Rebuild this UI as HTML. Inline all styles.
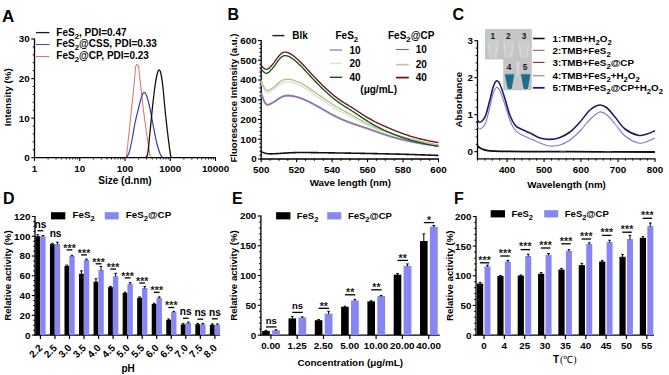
<!DOCTYPE html>
<html><head><meta charset="utf-8"><style>
html,body{margin:0;padding:0;background:#fff;}
svg{display:block;font-family:"Liberation Sans", sans-serif;}
</style></head><body>
<svg width="669" height="375" viewBox="0 0 669 375">
<rect width="669" height="375" fill="#fff"/>
<text x="2" y="22" font-size="17" text-anchor="start" font-weight="bold" fill="#000">A</text>
<line x1="34.5" y1="38.5" x2="34.5" y2="158.3" stroke="#000" stroke-width="1.3"/>
<line x1="33.9" y1="157.7" x2="216" y2="157.7" stroke="#000" stroke-width="1.3"/>
<line x1="31.3" y1="157.7" x2="34.5" y2="157.7" stroke="#000" stroke-width="1.1"/>
<text x="29.7" y="161.1" font-size="9.8" text-anchor="end" font-weight="bold" fill="#000">0</text>
<line x1="32.7" y1="149.79" x2="34.5" y2="149.79" stroke="#000" stroke-width="1"/>
<line x1="32.7" y1="141.87" x2="34.5" y2="141.87" stroke="#000" stroke-width="1"/>
<line x1="32.7" y1="133.96" x2="34.5" y2="133.96" stroke="#000" stroke-width="1"/>
<line x1="32.7" y1="126.05" x2="34.5" y2="126.05" stroke="#000" stroke-width="1"/>
<line x1="31.3" y1="118.13" x2="34.5" y2="118.13" stroke="#000" stroke-width="1.1"/>
<text x="29.7" y="121.53" font-size="9.8" text-anchor="end" font-weight="bold" fill="#000">10</text>
<line x1="32.7" y1="110.22" x2="34.5" y2="110.22" stroke="#000" stroke-width="1"/>
<line x1="32.7" y1="102.31" x2="34.5" y2="102.31" stroke="#000" stroke-width="1"/>
<line x1="32.7" y1="94.39" x2="34.5" y2="94.39" stroke="#000" stroke-width="1"/>
<line x1="32.7" y1="86.48" x2="34.5" y2="86.48" stroke="#000" stroke-width="1"/>
<line x1="31.3" y1="78.57" x2="34.5" y2="78.57" stroke="#000" stroke-width="1.1"/>
<text x="29.7" y="81.97" font-size="9.8" text-anchor="end" font-weight="bold" fill="#000">20</text>
<line x1="32.7" y1="70.65" x2="34.5" y2="70.65" stroke="#000" stroke-width="1"/>
<line x1="32.7" y1="62.74" x2="34.5" y2="62.74" stroke="#000" stroke-width="1"/>
<line x1="32.7" y1="54.83" x2="34.5" y2="54.83" stroke="#000" stroke-width="1"/>
<line x1="32.7" y1="46.91" x2="34.5" y2="46.91" stroke="#000" stroke-width="1"/>
<line x1="31.3" y1="39" x2="34.5" y2="39" stroke="#000" stroke-width="1.1"/>
<text x="29.7" y="42.4" font-size="9.8" text-anchor="end" font-weight="bold" fill="#000">30</text>
<line x1="34.5" y1="157.7" x2="34.5" y2="160.9" stroke="#000" stroke-width="1.1"/>
<text x="34.5" y="171.6" font-size="9.8" text-anchor="middle" font-weight="bold" fill="#000">1</text>
<line x1="48.12" y1="157.7" x2="48.12" y2="159.5" stroke="#000" stroke-width="0.9"/>
<line x1="56.09" y1="157.7" x2="56.09" y2="159.5" stroke="#000" stroke-width="0.9"/>
<line x1="61.74" y1="157.7" x2="61.74" y2="159.5" stroke="#000" stroke-width="0.9"/>
<line x1="66.13" y1="157.7" x2="66.13" y2="159.5" stroke="#000" stroke-width="0.9"/>
<line x1="69.71" y1="157.7" x2="69.71" y2="159.5" stroke="#000" stroke-width="0.9"/>
<line x1="72.74" y1="157.7" x2="72.74" y2="159.5" stroke="#000" stroke-width="0.9"/>
<line x1="75.36" y1="157.7" x2="75.36" y2="159.5" stroke="#000" stroke-width="0.9"/>
<line x1="77.68" y1="157.7" x2="77.68" y2="159.5" stroke="#000" stroke-width="0.9"/>
<line x1="79.75" y1="157.7" x2="79.75" y2="160.9" stroke="#000" stroke-width="1.1"/>
<text x="79.75" y="171.6" font-size="9.8" text-anchor="middle" font-weight="bold" fill="#000">10</text>
<line x1="93.37" y1="157.7" x2="93.37" y2="159.5" stroke="#000" stroke-width="0.9"/>
<line x1="101.34" y1="157.7" x2="101.34" y2="159.5" stroke="#000" stroke-width="0.9"/>
<line x1="106.99" y1="157.7" x2="106.99" y2="159.5" stroke="#000" stroke-width="0.9"/>
<line x1="111.38" y1="157.7" x2="111.38" y2="159.5" stroke="#000" stroke-width="0.9"/>
<line x1="114.96" y1="157.7" x2="114.96" y2="159.5" stroke="#000" stroke-width="0.9"/>
<line x1="117.99" y1="157.7" x2="117.99" y2="159.5" stroke="#000" stroke-width="0.9"/>
<line x1="120.61" y1="157.7" x2="120.61" y2="159.5" stroke="#000" stroke-width="0.9"/>
<line x1="122.93" y1="157.7" x2="122.93" y2="159.5" stroke="#000" stroke-width="0.9"/>
<line x1="125" y1="157.7" x2="125" y2="160.9" stroke="#000" stroke-width="1.1"/>
<text x="125" y="171.6" font-size="9.8" text-anchor="middle" font-weight="bold" fill="#000">100</text>
<line x1="138.62" y1="157.7" x2="138.62" y2="159.5" stroke="#000" stroke-width="0.9"/>
<line x1="146.59" y1="157.7" x2="146.59" y2="159.5" stroke="#000" stroke-width="0.9"/>
<line x1="152.24" y1="157.7" x2="152.24" y2="159.5" stroke="#000" stroke-width="0.9"/>
<line x1="156.63" y1="157.7" x2="156.63" y2="159.5" stroke="#000" stroke-width="0.9"/>
<line x1="160.21" y1="157.7" x2="160.21" y2="159.5" stroke="#000" stroke-width="0.9"/>
<line x1="163.24" y1="157.7" x2="163.24" y2="159.5" stroke="#000" stroke-width="0.9"/>
<line x1="165.86" y1="157.7" x2="165.86" y2="159.5" stroke="#000" stroke-width="0.9"/>
<line x1="168.18" y1="157.7" x2="168.18" y2="159.5" stroke="#000" stroke-width="0.9"/>
<line x1="170.25" y1="157.7" x2="170.25" y2="160.9" stroke="#000" stroke-width="1.1"/>
<text x="170.25" y="171.6" font-size="9.8" text-anchor="middle" font-weight="bold" fill="#000">1000</text>
<line x1="183.87" y1="157.7" x2="183.87" y2="159.5" stroke="#000" stroke-width="0.9"/>
<line x1="191.84" y1="157.7" x2="191.84" y2="159.5" stroke="#000" stroke-width="0.9"/>
<line x1="197.49" y1="157.7" x2="197.49" y2="159.5" stroke="#000" stroke-width="0.9"/>
<line x1="201.88" y1="157.7" x2="201.88" y2="159.5" stroke="#000" stroke-width="0.9"/>
<line x1="205.46" y1="157.7" x2="205.46" y2="159.5" stroke="#000" stroke-width="0.9"/>
<line x1="208.49" y1="157.7" x2="208.49" y2="159.5" stroke="#000" stroke-width="0.9"/>
<line x1="211.11" y1="157.7" x2="211.11" y2="159.5" stroke="#000" stroke-width="0.9"/>
<line x1="213.43" y1="157.7" x2="213.43" y2="159.5" stroke="#000" stroke-width="0.9"/>
<line x1="215.5" y1="157.7" x2="215.5" y2="160.9" stroke="#000" stroke-width="1.1"/>
<text x="215.5" y="171.6" font-size="9.8" text-anchor="middle" font-weight="bold" fill="#000">10000</text>
<text x="125" y="184.3" font-size="10" text-anchor="middle" font-weight="bold" fill="#000">Size (d.nm)</text>
<text x="11.4" y="97.3" font-size="9.75" text-anchor="middle" font-weight="bold" fill="#000" transform="rotate(-90 11.4 97.3)">Intensity (%)</text>
<line x1="36" y1="32.6" x2="49.4" y2="32.6" stroke="#1a1a1a" stroke-width="1.3"/>
<text x="56.3" y="35.5" font-size="10" text-anchor="start" font-weight="bold" fill="#000">FeS<tspan dy="3" font-size="7.8">2</tspan><tspan dy="-3">, PDI=0.47</tspan></text>
<line x1="36" y1="44.55" x2="49.4" y2="44.55" stroke="#4040c0" stroke-width="1"/>
<text x="56.3" y="47.45" font-size="10" text-anchor="start" font-weight="bold" fill="#000">FeS<tspan dy="3" font-size="7.8">2</tspan><tspan dy="-3">@CSS, PDI=0.33</tspan></text>
<line x1="36" y1="56.5" x2="49.4" y2="56.5" stroke="#e07070" stroke-width="1"/>
<text x="56.3" y="59.4" font-size="10" text-anchor="start" font-weight="bold" fill="#000">FeS<tspan dy="3" font-size="7.8">2</tspan><tspan dy="-3">@CP, PDI=0.23</tspan></text>
<path d="M126.4,157.2 L129,133 L131.4,110 L134,86 L135.6,66.5 L137,64.2 L138.5,66 L140.8,87 L143.4,110 L146.5,133 L150.3,157.2" fill="none" stroke="#e07878" stroke-width="1.1" stroke-linejoin="round"/>
<path d="M126.4,157.2 C126.83,156.5 128.07,155.87 129,153 C129.93,150.13 131,145 132,140 C133,135 133.9,128.33 135,123 C136.1,117.67 137.52,112.33 138.6,108 C139.68,103.67 140.58,99.6 141.5,97 C142.42,94.4 143.18,92.4 144.1,92.4 C145.02,92.4 145.97,94.07 147,97 C148.03,99.93 149.22,105 150.3,110 C151.38,115 152.38,121.33 153.5,127 C154.62,132.67 155.92,139.58 157,144 C158.08,148.42 159.15,151.3 160,153.5 C160.85,155.7 161.75,156.58 162.1,157.2" fill="none" stroke="#3a3ab8" stroke-width="1.2" stroke-linejoin="round"/>
<path d="M144.8,157.5 C145.27,156.98 146.73,158.65 147.6,154.4 C148.47,150.15 149.2,139.73 150,132 C150.8,124.27 151.57,115.67 152.4,108 C153.23,100.33 154.18,91.75 155,86 C155.82,80.25 156.62,76.2 157.3,73.5 C157.98,70.8 158.5,69.8 159.1,69.8 C159.7,69.8 160.28,70.8 160.9,73.5 C161.52,76.2 162.13,80.25 162.8,86 C163.47,91.75 164.12,100.33 164.9,108 C165.68,115.67 166.58,124.27 167.5,132 C168.42,139.73 169.68,150.15 170.4,154.4 C171.12,158.65 171.57,156.98 171.8,157.5" fill="none" stroke="#111" stroke-width="1.3" stroke-linejoin="round"/>
<text x="227.5" y="20" font-size="16" text-anchor="start" font-weight="bold" fill="#000">B</text>
<line x1="261.2" y1="40" x2="261.2" y2="159.6" stroke="#000" stroke-width="1.3"/>
<line x1="260.6" y1="159" x2="439" y2="159" stroke="#000" stroke-width="1.3"/>
<line x1="258" y1="159" x2="261.2" y2="159" stroke="#000" stroke-width="1.1"/>
<text x="256.6" y="162.4" font-size="9.8" text-anchor="end" font-weight="bold" fill="#000">0</text>
<line x1="259.4" y1="155.05" x2="261.2" y2="155.05" stroke="#000" stroke-width="1"/>
<line x1="259.4" y1="151.1" x2="261.2" y2="151.1" stroke="#000" stroke-width="1"/>
<line x1="259.4" y1="147.15" x2="261.2" y2="147.15" stroke="#000" stroke-width="1"/>
<line x1="259.4" y1="143.2" x2="261.2" y2="143.2" stroke="#000" stroke-width="1"/>
<line x1="258" y1="139.25" x2="261.2" y2="139.25" stroke="#000" stroke-width="1.1"/>
<text x="256.6" y="142.65" font-size="9.8" text-anchor="end" font-weight="bold" fill="#000">100</text>
<line x1="259.4" y1="135.3" x2="261.2" y2="135.3" stroke="#000" stroke-width="1"/>
<line x1="259.4" y1="131.35" x2="261.2" y2="131.35" stroke="#000" stroke-width="1"/>
<line x1="259.4" y1="127.4" x2="261.2" y2="127.4" stroke="#000" stroke-width="1"/>
<line x1="259.4" y1="123.45" x2="261.2" y2="123.45" stroke="#000" stroke-width="1"/>
<line x1="258" y1="119.5" x2="261.2" y2="119.5" stroke="#000" stroke-width="1.1"/>
<text x="256.6" y="122.9" font-size="9.8" text-anchor="end" font-weight="bold" fill="#000">200</text>
<line x1="259.4" y1="115.55" x2="261.2" y2="115.55" stroke="#000" stroke-width="1"/>
<line x1="259.4" y1="111.6" x2="261.2" y2="111.6" stroke="#000" stroke-width="1"/>
<line x1="259.4" y1="107.65" x2="261.2" y2="107.65" stroke="#000" stroke-width="1"/>
<line x1="259.4" y1="103.7" x2="261.2" y2="103.7" stroke="#000" stroke-width="1"/>
<line x1="258" y1="99.75" x2="261.2" y2="99.75" stroke="#000" stroke-width="1.1"/>
<text x="256.6" y="103.15" font-size="9.8" text-anchor="end" font-weight="bold" fill="#000">300</text>
<line x1="259.4" y1="95.8" x2="261.2" y2="95.8" stroke="#000" stroke-width="1"/>
<line x1="259.4" y1="91.85" x2="261.2" y2="91.85" stroke="#000" stroke-width="1"/>
<line x1="259.4" y1="87.9" x2="261.2" y2="87.9" stroke="#000" stroke-width="1"/>
<line x1="259.4" y1="83.95" x2="261.2" y2="83.95" stroke="#000" stroke-width="1"/>
<line x1="258" y1="80" x2="261.2" y2="80" stroke="#000" stroke-width="1.1"/>
<text x="256.6" y="83.4" font-size="9.8" text-anchor="end" font-weight="bold" fill="#000">400</text>
<line x1="259.4" y1="76.05" x2="261.2" y2="76.05" stroke="#000" stroke-width="1"/>
<line x1="259.4" y1="72.1" x2="261.2" y2="72.1" stroke="#000" stroke-width="1"/>
<line x1="259.4" y1="68.15" x2="261.2" y2="68.15" stroke="#000" stroke-width="1"/>
<line x1="259.4" y1="64.2" x2="261.2" y2="64.2" stroke="#000" stroke-width="1"/>
<line x1="258" y1="60.25" x2="261.2" y2="60.25" stroke="#000" stroke-width="1.1"/>
<text x="256.6" y="63.65" font-size="9.8" text-anchor="end" font-weight="bold" fill="#000">500</text>
<line x1="259.4" y1="56.3" x2="261.2" y2="56.3" stroke="#000" stroke-width="1"/>
<line x1="259.4" y1="52.35" x2="261.2" y2="52.35" stroke="#000" stroke-width="1"/>
<line x1="259.4" y1="48.4" x2="261.2" y2="48.4" stroke="#000" stroke-width="1"/>
<line x1="259.4" y1="44.45" x2="261.2" y2="44.45" stroke="#000" stroke-width="1"/>
<line x1="258" y1="40.5" x2="261.2" y2="40.5" stroke="#000" stroke-width="1.1"/>
<text x="256.6" y="43.9" font-size="9.8" text-anchor="end" font-weight="bold" fill="#000">600</text>
<line x1="261.2" y1="159" x2="261.2" y2="162.2" stroke="#000" stroke-width="1.1"/>
<text x="261.2" y="173.3" font-size="9.8" text-anchor="middle" font-weight="bold" fill="#000">500</text>
<line x1="270.06" y1="159" x2="270.06" y2="160.8" stroke="#000" stroke-width="1"/>
<line x1="278.93" y1="159" x2="278.93" y2="160.8" stroke="#000" stroke-width="1"/>
<line x1="287.8" y1="159" x2="287.8" y2="160.8" stroke="#000" stroke-width="1"/>
<line x1="296.66" y1="159" x2="296.66" y2="162.2" stroke="#000" stroke-width="1.1"/>
<text x="296.66" y="173.3" font-size="9.8" text-anchor="middle" font-weight="bold" fill="#000">520</text>
<line x1="305.52" y1="159" x2="305.52" y2="160.8" stroke="#000" stroke-width="1"/>
<line x1="314.39" y1="159" x2="314.39" y2="160.8" stroke="#000" stroke-width="1"/>
<line x1="323.25" y1="159" x2="323.25" y2="160.8" stroke="#000" stroke-width="1"/>
<line x1="332.12" y1="159" x2="332.12" y2="162.2" stroke="#000" stroke-width="1.1"/>
<text x="332.12" y="173.3" font-size="9.8" text-anchor="middle" font-weight="bold" fill="#000">540</text>
<line x1="340.99" y1="159" x2="340.99" y2="160.8" stroke="#000" stroke-width="1"/>
<line x1="349.85" y1="159" x2="349.85" y2="160.8" stroke="#000" stroke-width="1"/>
<line x1="358.71" y1="159" x2="358.71" y2="160.8" stroke="#000" stroke-width="1"/>
<line x1="367.58" y1="159" x2="367.58" y2="162.2" stroke="#000" stroke-width="1.1"/>
<text x="367.58" y="173.3" font-size="9.8" text-anchor="middle" font-weight="bold" fill="#000">560</text>
<line x1="376.44" y1="159" x2="376.44" y2="160.8" stroke="#000" stroke-width="1"/>
<line x1="385.31" y1="159" x2="385.31" y2="160.8" stroke="#000" stroke-width="1"/>
<line x1="394.18" y1="159" x2="394.18" y2="160.8" stroke="#000" stroke-width="1"/>
<line x1="403.04" y1="159" x2="403.04" y2="162.2" stroke="#000" stroke-width="1.1"/>
<text x="403.04" y="173.3" font-size="9.8" text-anchor="middle" font-weight="bold" fill="#000">580</text>
<line x1="411.9" y1="159" x2="411.9" y2="160.8" stroke="#000" stroke-width="1"/>
<line x1="420.77" y1="159" x2="420.77" y2="160.8" stroke="#000" stroke-width="1"/>
<line x1="429.63" y1="159" x2="429.63" y2="160.8" stroke="#000" stroke-width="1"/>
<line x1="438.5" y1="159" x2="438.5" y2="162.2" stroke="#000" stroke-width="1.1"/>
<text x="438.5" y="173.3" font-size="9.8" text-anchor="middle" font-weight="bold" fill="#000">600</text>
<text x="350.3" y="185.8" font-size="9.8" text-anchor="middle" font-weight="bold" fill="#000">Wave length (nm)</text>
<text x="237.2" y="98" font-size="9.55" text-anchor="middle" font-weight="bold" fill="#000" transform="rotate(-90 237.2 98)">Fluorescence Intensity (a.u.)</text>
<line x1="272.4" y1="35.6" x2="284.4" y2="35.6" stroke="#1a1a1a" stroke-width="1.4"/>
<text x="292.3" y="39.4" font-size="10" text-anchor="start" font-weight="bold" fill="#000">Blk</text>
<text x="335.5" y="39" font-size="10" text-anchor="start" font-weight="bold" fill="#000">FeS<tspan dy="3" font-size="7.8">2</tspan></text>
<text x="388" y="39" font-size="10" text-anchor="start" font-weight="bold" fill="#000">FeS<tspan dy="3" font-size="7.8">2</tspan><tspan dy="-3">@CP</tspan></text>
<line x1="329.8" y1="50" x2="342" y2="50" stroke="#b08aa8" stroke-width="1.5"/>
<text x="349.4" y="53.5" font-size="10" text-anchor="start" font-weight="bold" fill="#000">10</text>
<line x1="329.8" y1="63.5" x2="342" y2="63.5" stroke="#c8ecc8" stroke-width="1.4"/>
<text x="349.4" y="67" font-size="10" text-anchor="start" font-weight="bold" fill="#000">20</text>
<line x1="329.8" y1="77.3" x2="342" y2="77.3" stroke="#0c3c10" stroke-width="1.3"/>
<text x="349.4" y="80.8" font-size="10" text-anchor="start" font-weight="bold" fill="#000">40</text>
<line x1="396" y1="49.5" x2="408.8" y2="49.5" stroke="#6a6a98" stroke-width="1.1"/>
<text x="415.8" y="53" font-size="10" text-anchor="start" font-weight="bold" fill="#000">10</text>
<line x1="396" y1="64.7" x2="408.8" y2="64.7" stroke="#c8c4a0" stroke-width="1.8"/>
<text x="415.8" y="68.2" font-size="10" text-anchor="start" font-weight="bold" fill="#000">20</text>
<line x1="396" y1="77.6" x2="408.8" y2="77.6" stroke="#7a1420" stroke-width="1.8"/>
<text x="415.8" y="81.1" font-size="10" text-anchor="start" font-weight="bold" fill="#000">40</text>
<text x="360.3" y="92.6" font-size="10" text-anchor="start" font-weight="bold" fill="#000">(μg/mL)</text>
<path d="M261.20,151.49 L262.09,151.96 L262.97,152.38 L263.86,152.74 L264.75,153.03 L265.63,153.26 L266.52,153.44 L267.41,153.60 L268.29,153.72 L269.18,153.80 L270.06,153.84 L270.95,153.85 L271.84,153.84 L272.72,153.81 L273.61,153.78 L274.50,153.74 L275.38,153.70 L276.27,153.65 L277.16,153.59 L278.04,153.54 L278.93,153.48 L279.82,153.43 L280.70,153.38 L281.59,153.32 L282.48,153.27 L283.36,153.21 L284.25,153.16 L285.14,153.10 L286.02,153.04 L286.91,152.98 L287.80,152.92 L288.68,152.87 L289.57,152.81 L290.45,152.77 L291.34,152.72 L292.23,152.69 L293.11,152.65 L294.00,152.63 L294.89,152.60 L295.77,152.58 L296.66,152.57 L297.55,152.55 L298.43,152.54 L299.32,152.53 L300.21,152.53 L301.09,152.52 L301.98,152.52 L302.87,152.52 L303.75,152.53 L304.64,152.53 L305.52,152.54 L306.41,152.54 L307.30,152.55 L308.18,152.56 L309.07,152.56 L309.96,152.57 L310.84,152.58 L311.73,152.59 L312.62,152.60 L313.50,152.61 L314.39,152.63 L315.28,152.64 L316.16,152.65 L317.05,152.66 L317.94,152.67 L318.82,152.69 L319.71,152.70 L320.60,152.71 L321.48,152.72 L322.37,152.74 L323.25,152.75 L324.14,152.76 L325.03,152.78 L325.91,152.79 L326.80,152.80 L327.69,152.81 L328.57,152.83 L329.46,152.84 L330.35,152.85 L331.23,152.86 L332.12,152.88 L333.01,152.89 L333.89,152.90 L334.78,152.92 L335.67,152.93 L336.55,152.94 L337.44,152.95 L338.33,152.97 L339.21,152.98 L340.10,152.99 L340.99,153.01 L341.87,153.02 L342.76,153.04 L343.64,153.05 L344.53,153.06 L345.42,153.08 L346.30,153.09 L347.19,153.11 L348.08,153.12 L348.96,153.14 L349.85,153.15 L350.74,153.17 L351.62,153.18 L352.51,153.20 L353.40,153.21 L354.28,153.23 L355.17,153.24 L356.06,153.26 L356.94,153.27 L357.83,153.29 L358.71,153.31 L359.60,153.32 L360.49,153.34 L361.37,153.35 L362.26,153.37 L363.15,153.39 L364.03,153.40 L364.92,153.42 L365.81,153.44 L366.69,153.45 L367.58,153.47 L368.47,153.49 L369.35,153.51 L370.24,153.52 L371.13,153.54 L372.01,153.56 L372.90,153.58 L373.79,153.59 L374.67,153.61 L375.56,153.63 L376.44,153.65 L377.33,153.66 L378.22,153.68 L379.10,153.70 L379.99,153.72 L380.88,153.74 L381.76,153.76 L382.65,153.78 L383.54,153.80 L384.42,153.81 L385.31,153.83 L386.20,153.85 L387.08,153.87 L387.97,153.89 L388.86,153.91 L389.74,153.93 L390.63,153.95 L391.52,153.98 L392.40,154.00 L393.29,154.02 L394.18,154.04 L395.06,154.06 L395.95,154.08 L396.83,154.10 L397.72,154.13 L398.61,154.15 L399.49,154.17 L400.38,154.19 L401.27,154.22 L402.15,154.24 L403.04,154.27 L403.93,154.29 L404.81,154.31 L405.70,154.34 L406.59,154.36 L407.47,154.39 L408.36,154.41 L409.25,154.44 L410.13,154.47 L411.02,154.49 L411.90,154.52 L412.79,154.55 L413.68,154.57 L414.56,154.60 L415.45,154.63 L416.34,154.66 L417.22,154.69 L418.11,154.71 L419.00,154.74 L419.88,154.77 L420.77,154.80 L421.66,154.83 L422.54,154.86 L423.43,154.89 L424.32,154.92 L425.20,154.96 L426.09,154.99 L426.98,155.02 L427.86,155.05 L428.75,155.08 L429.63,155.11 L430.52,155.15 L431.41,155.18 L432.29,155.21 L433.18,155.24 L434.07,155.28 L434.95,155.31 L435.84,155.35 L436.73,155.38 L437.61,155.41 L438.50,155.45" fill="none" stroke="#111" stroke-width="1.6" stroke-linejoin="round"/>
<path d="M261.20,93.20 L262.09,95.86 L262.97,98.32 L263.86,100.47 L264.75,102.24 L265.63,103.56 L266.52,104.41 L267.41,104.78 L268.29,104.77 L269.18,104.49 L270.06,104.07 L270.95,103.60 L271.84,103.12 L272.72,102.63 L273.61,102.12 L274.50,101.58 L275.38,101.00 L276.27,100.40 L277.16,99.79 L278.04,99.19 L278.93,98.60 L279.82,98.04 L280.70,97.53 L281.59,97.06 L282.48,96.66 L283.36,96.32 L284.25,96.06 L285.14,95.86 L286.02,95.72 L286.91,95.64 L287.80,95.61 L288.68,95.62 L289.57,95.66 L290.45,95.74 L291.34,95.84 L292.23,95.96 L293.11,96.11 L294.00,96.28 L294.89,96.48 L295.77,96.70 L296.66,96.94 L297.55,97.18 L298.43,97.43 L299.32,97.71 L300.21,98.01 L301.09,98.33 L301.98,98.67 L302.87,99.02 L303.75,99.39 L304.64,99.77 L305.52,100.17 L306.41,100.58 L307.30,101.00 L308.18,101.42 L309.07,101.86 L309.96,102.30 L310.84,102.75 L311.73,103.21 L312.62,103.67 L313.50,104.13 L314.39,104.60 L315.28,105.08 L316.16,105.56 L317.05,106.05 L317.94,106.54 L318.82,107.04 L319.71,107.54 L320.60,108.05 L321.48,108.56 L322.37,109.07 L323.25,109.58 L324.14,110.10 L325.03,110.61 L325.91,111.12 L326.80,111.63 L327.69,112.14 L328.57,112.64 L329.46,113.14 L330.35,113.63 L331.23,114.12 L332.12,114.59 L333.01,115.07 L333.89,115.53 L334.78,115.99 L335.67,116.44 L336.55,116.88 L337.44,117.31 L338.33,117.73 L339.21,118.15 L340.10,118.56 L340.99,118.96 L341.87,119.35 L342.76,119.73 L343.64,120.11 L344.53,120.48 L345.42,120.84 L346.30,121.20 L347.19,121.55 L348.08,121.89 L348.96,122.23 L349.85,122.56 L350.74,122.89 L351.62,123.21 L352.51,123.53 L353.40,123.84 L354.28,124.15 L355.17,124.46 L356.06,124.76 L356.94,125.06 L357.83,125.35 L358.71,125.65 L359.60,125.94 L360.49,126.23 L361.37,126.52 L362.26,126.82 L363.15,127.11 L364.03,127.40 L364.92,127.70 L365.81,127.99 L366.69,128.29 L367.58,128.59 L368.47,128.90 L369.35,129.20 L370.24,129.51 L371.13,129.82 L372.01,130.14 L372.90,130.46 L373.79,130.77 L374.67,131.09 L375.56,131.41 L376.44,131.73 L377.33,132.05 L378.22,132.37 L379.10,132.69 L379.99,133.00 L380.88,133.31 L381.76,133.62 L382.65,133.92 L383.54,134.22 L384.42,134.52 L385.31,134.81 L386.20,135.09 L387.08,135.37 L387.97,135.65 L388.86,135.92 L389.74,136.19 L390.63,136.45 L391.52,136.71 L392.40,136.97 L393.29,137.22 L394.18,137.47 L395.06,137.72 L395.95,137.96 L396.83,138.20 L397.72,138.44 L398.61,138.68 L399.49,138.91 L400.38,139.13 L401.27,139.36 L402.15,139.58 L403.04,139.79 L403.93,140.01 L404.81,140.22 L405.70,140.42 L406.59,140.62 L407.47,140.82 L408.36,141.02 L409.25,141.21 L410.13,141.40 L411.02,141.58 L411.90,141.76 L412.79,141.94 L413.68,142.11 L414.56,142.28 L415.45,142.45 L416.34,142.62 L417.22,142.78 L418.11,142.94 L419.00,143.10 L419.88,143.26 L420.77,143.41 L421.66,143.57 L422.54,143.71 L423.43,143.86 L424.32,144.00 L425.20,144.15 L426.09,144.28 L426.98,144.42 L427.86,144.55 L428.75,144.68 L429.63,144.81 L430.52,144.93 L431.41,145.06 L432.29,145.18 L433.18,145.29 L434.07,145.40 L434.95,145.52 L435.84,145.62 L436.73,145.73 L437.61,145.83 L438.50,145.94" fill="none" stroke="#b090b8" stroke-width="2.1" stroke-linejoin="round"/>
<path d="M261.20,93.20 L262.09,95.86 L262.97,98.32 L263.86,100.47 L264.75,102.24 L265.63,103.56 L266.52,104.41 L267.41,104.78 L268.29,104.77 L269.18,104.49 L270.06,104.07 L270.95,103.60 L271.84,103.12 L272.72,102.63 L273.61,102.12 L274.50,101.58 L275.38,101.00 L276.27,100.40 L277.16,99.79 L278.04,99.19 L278.93,98.60 L279.82,98.04 L280.70,97.53 L281.59,97.06 L282.48,96.66 L283.36,96.32 L284.25,96.06 L285.14,95.86 L286.02,95.72 L286.91,95.64 L287.80,95.61 L288.68,95.62 L289.57,95.66 L290.45,95.74 L291.34,95.84 L292.23,95.96 L293.11,96.11 L294.00,96.28 L294.89,96.48 L295.77,96.70 L296.66,96.94 L297.55,97.18 L298.43,97.43 L299.32,97.71 L300.21,98.01 L301.09,98.33 L301.98,98.67 L302.87,99.02 L303.75,99.39 L304.64,99.77 L305.52,100.17 L306.41,100.58 L307.30,101.00 L308.18,101.42 L309.07,101.86 L309.96,102.30 L310.84,102.75 L311.73,103.21 L312.62,103.67 L313.50,104.13 L314.39,104.60 L315.28,105.08 L316.16,105.56 L317.05,106.05 L317.94,106.54 L318.82,107.04 L319.71,107.54 L320.60,108.05 L321.48,108.56 L322.37,109.07 L323.25,109.58 L324.14,110.10 L325.03,110.61 L325.91,111.12 L326.80,111.63 L327.69,112.14 L328.57,112.64 L329.46,113.14 L330.35,113.63 L331.23,114.12 L332.12,114.59 L333.01,115.07 L333.89,115.53 L334.78,115.99 L335.67,116.44 L336.55,116.88 L337.44,117.31 L338.33,117.73 L339.21,118.15 L340.10,118.56 L340.99,118.96 L341.87,119.35 L342.76,119.73 L343.64,120.11 L344.53,120.48 L345.42,120.84 L346.30,121.20 L347.19,121.55 L348.08,121.89 L348.96,122.23 L349.85,122.56 L350.74,122.89 L351.62,123.21 L352.51,123.53 L353.40,123.84 L354.28,124.15 L355.17,124.46 L356.06,124.76 L356.94,125.06 L357.83,125.35 L358.71,125.65 L359.60,125.94 L360.49,126.23 L361.37,126.52 L362.26,126.82 L363.15,127.11 L364.03,127.40 L364.92,127.70 L365.81,127.99 L366.69,128.29 L367.58,128.59 L368.47,128.90 L369.35,129.20 L370.24,129.51 L371.13,129.82 L372.01,130.14 L372.90,130.46 L373.79,130.77 L374.67,131.09 L375.56,131.41 L376.44,131.73 L377.33,132.05 L378.22,132.37 L379.10,132.69 L379.99,133.00 L380.88,133.31 L381.76,133.62 L382.65,133.92 L383.54,134.22 L384.42,134.52 L385.31,134.81 L386.20,135.09 L387.08,135.37 L387.97,135.65 L388.86,135.92 L389.74,136.19 L390.63,136.45 L391.52,136.71 L392.40,136.97 L393.29,137.22 L394.18,137.47 L395.06,137.72 L395.95,137.96 L396.83,138.20 L397.72,138.44 L398.61,138.68 L399.49,138.91 L400.38,139.13 L401.27,139.36 L402.15,139.58 L403.04,139.79 L403.93,140.01 L404.81,140.22 L405.70,140.42 L406.59,140.62 L407.47,140.82 L408.36,141.02 L409.25,141.21 L410.13,141.40 L411.02,141.58 L411.90,141.76 L412.79,141.94 L413.68,142.11 L414.56,142.28 L415.45,142.45 L416.34,142.62 L417.22,142.78 L418.11,142.94 L419.00,143.10 L419.88,143.26 L420.77,143.41 L421.66,143.57 L422.54,143.71 L423.43,143.86 L424.32,144.00 L425.20,144.15 L426.09,144.28 L426.98,144.42 L427.86,144.55 L428.75,144.68 L429.63,144.81 L430.52,144.93 L431.41,145.06 L432.29,145.18 L433.18,145.29 L434.07,145.40 L434.95,145.52 L435.84,145.62 L436.73,145.73 L437.61,145.83 L438.50,145.94" fill="none" stroke="#6c64a8" stroke-width="0.8" stroke-linejoin="round"/>
<path d="M261.20,82.53 L262.09,84.88 L262.97,87.04 L263.86,88.90 L264.75,90.42 L265.63,91.55 L266.52,92.26 L267.41,92.55 L268.29,92.48 L269.18,92.14 L270.06,91.63 L270.95,91.06 L271.84,90.47 L272.72,89.88 L273.61,89.26 L274.50,88.59 L275.38,87.88 L276.27,87.15 L277.16,86.40 L278.04,85.67 L278.93,84.97 L279.82,84.31 L280.70,83.72 L281.59,83.20 L282.48,82.76 L283.36,82.42 L284.25,82.16 L285.14,81.99 L286.02,81.88 L286.91,81.84 L287.80,81.85 L288.68,81.91 L289.57,82.00 L290.45,82.12 L291.34,82.28 L292.23,82.47 L293.11,82.69 L294.00,82.93 L294.89,83.21 L295.77,83.52 L296.66,83.86 L297.55,84.20 L298.43,84.56 L299.32,84.96 L300.21,85.38 L301.09,85.83 L301.98,86.30 L302.87,86.80 L303.75,87.32 L304.64,87.86 L305.52,88.41 L306.41,88.98 L307.30,89.55 L308.18,90.14 L309.07,90.74 L309.96,91.34 L310.84,91.95 L311.73,92.56 L312.62,93.17 L313.50,93.78 L314.39,94.40 L315.28,95.02 L316.16,95.65 L317.05,96.27 L317.94,96.90 L318.82,97.53 L319.71,98.15 L320.60,98.78 L321.48,99.41 L322.37,100.04 L323.25,100.67 L324.14,101.29 L325.03,101.91 L325.91,102.52 L326.80,103.12 L327.69,103.72 L328.57,104.31 L329.46,104.89 L330.35,105.46 L331.23,106.02 L332.12,106.57 L333.01,107.11 L333.89,107.64 L334.78,108.16 L335.67,108.67 L336.55,109.17 L337.44,109.67 L338.33,110.16 L339.21,110.64 L340.10,111.12 L340.99,111.59 L341.87,112.06 L342.76,112.53 L343.64,112.99 L344.53,113.45 L345.42,113.91 L346.30,114.36 L347.19,114.82 L348.08,115.28 L348.96,115.74 L349.85,116.20 L350.74,116.66 L351.62,117.12 L352.51,117.58 L353.40,118.05 L354.28,118.51 L355.17,118.98 L356.06,119.45 L356.94,119.92 L357.83,120.39 L358.71,120.85 L359.60,121.32 L360.49,121.78 L361.37,122.24 L362.26,122.70 L363.15,123.15 L364.03,123.60 L364.92,124.04 L365.81,124.47 L366.69,124.90 L367.58,125.33 L368.47,125.74 L369.35,126.15 L370.24,126.56 L371.13,126.95 L372.01,127.34 L372.90,127.72 L373.79,128.10 L374.67,128.47 L375.56,128.83 L376.44,129.19 L377.33,129.54 L378.22,129.88 L379.10,130.22 L379.99,130.56 L380.88,130.89 L381.76,131.21 L382.65,131.53 L383.54,131.84 L384.42,132.15 L385.31,132.45 L386.20,132.75 L387.08,133.05 L387.97,133.34 L388.86,133.62 L389.74,133.91 L390.63,134.19 L391.52,134.46 L392.40,134.74 L393.29,135.01 L394.18,135.27 L395.06,135.54 L395.95,135.80 L396.83,136.05 L397.72,136.31 L398.61,136.56 L399.49,136.81 L400.38,137.05 L401.27,137.30 L402.15,137.54 L403.04,137.77 L403.93,138.01 L404.81,138.24 L405.70,138.47 L406.59,138.70 L407.47,138.92 L408.36,139.14 L409.25,139.36 L410.13,139.57 L411.02,139.79 L411.90,140.00 L412.79,140.21 L413.68,140.42 L414.56,140.62 L415.45,140.82 L416.34,141.02 L417.22,141.22 L418.11,141.42 L419.00,141.61 L419.88,141.80 L420.77,142.00 L421.66,142.18 L422.54,142.37 L423.43,142.55 L424.32,142.74 L425.20,142.92 L426.09,143.09 L426.98,143.27 L427.86,143.44 L428.75,143.61 L429.63,143.78 L430.52,143.95 L431.41,144.11 L432.29,144.27 L433.18,144.43 L434.07,144.59 L434.95,144.75 L435.84,144.90 L436.73,145.05 L437.61,145.20 L438.50,145.35" fill="none" stroke="#c8f0c8" stroke-width="1.5" stroke-linejoin="round"/>
<path d="M261.20,80.16 L262.09,82.60 L262.97,84.83 L263.86,86.77 L264.75,88.35 L265.63,89.52 L266.52,90.26 L267.41,90.57 L268.29,90.51 L269.18,90.16 L270.06,89.66 L270.95,89.09 L271.84,88.49 L272.72,87.88 L273.61,87.24 L274.50,86.53 L275.38,85.79 L276.27,85.00 L277.16,84.21 L278.04,83.43 L278.93,82.68 L279.82,81.97 L280.70,81.33 L281.59,80.77 L282.48,80.30 L283.36,79.93 L284.25,79.65 L285.14,79.46 L286.02,79.35 L286.91,79.30 L287.80,79.30 L288.68,79.35 L289.57,79.44 L290.45,79.56 L291.34,79.72 L292.23,79.90 L293.11,80.12 L294.00,80.37 L294.89,80.65 L295.77,80.96 L296.66,81.30 L297.55,81.63 L298.43,82.00 L299.32,82.39 L300.21,82.81 L301.09,83.26 L301.98,83.74 L302.87,84.23 L303.75,84.75 L304.64,85.29 L305.52,85.84 L306.41,86.41 L307.30,86.99 L308.18,87.57 L309.07,88.17 L309.96,88.77 L310.84,89.38 L311.73,89.99 L312.62,90.60 L313.50,91.22 L314.39,91.83 L315.28,92.45 L316.16,93.08 L317.05,93.70 L317.94,94.33 L318.82,94.96 L319.71,95.58 L320.60,96.21 L321.48,96.84 L322.37,97.47 L323.25,98.10 L324.14,98.72 L325.03,99.34 L325.91,99.96 L326.80,100.57 L327.69,101.17 L328.57,101.76 L329.46,102.35 L330.35,102.93 L331.23,103.50 L332.12,104.06 L333.01,104.61 L333.89,105.15 L334.78,105.69 L335.67,106.22 L336.55,106.73 L337.44,107.25 L338.33,107.75 L339.21,108.25 L340.10,108.75 L340.99,109.24 L341.87,109.73 L342.76,110.21 L343.64,110.69 L344.53,111.17 L345.42,111.65 L346.30,112.12 L347.19,112.60 L348.08,113.08 L348.96,113.56 L349.85,114.04 L350.74,114.52 L351.62,115.00 L352.51,115.49 L353.40,115.98 L354.28,116.47 L355.17,116.96 L356.06,117.45 L356.94,117.95 L357.83,118.44 L358.71,118.94 L359.60,119.43 L360.49,119.92 L361.37,120.40 L362.26,120.88 L363.15,121.36 L364.03,121.84 L364.92,122.30 L365.81,122.77 L366.69,123.22 L367.58,123.67 L368.47,124.11 L369.35,124.55 L370.24,124.98 L371.13,125.40 L372.01,125.81 L372.90,126.22 L373.79,126.62 L374.67,127.01 L375.56,127.40 L376.44,127.78 L377.33,128.16 L378.22,128.52 L379.10,128.89 L379.99,129.24 L380.88,129.59 L381.76,129.94 L382.65,130.27 L383.54,130.61 L384.42,130.94 L385.31,131.26 L386.20,131.58 L387.08,131.89 L387.97,132.20 L388.86,132.50 L389.74,132.80 L390.63,133.10 L391.52,133.39 L392.40,133.68 L393.29,133.96 L394.18,134.24 L395.06,134.52 L395.95,134.79 L396.83,135.07 L397.72,135.33 L398.61,135.60 L399.49,135.86 L400.38,136.12 L401.27,136.37 L402.15,136.63 L403.04,136.87 L403.93,137.12 L404.81,137.36 L405.70,137.60 L406.59,137.84 L407.47,138.08 L408.36,138.31 L409.25,138.54 L410.13,138.76 L411.02,138.99 L411.90,139.21 L412.79,139.42 L413.68,139.64 L414.56,139.85 L415.45,140.07 L416.34,140.27 L417.22,140.48 L418.11,140.69 L419.00,140.89 L419.88,141.09 L420.77,141.29 L421.66,141.48 L422.54,141.68 L423.43,141.87 L424.32,142.06 L425.20,142.24 L426.09,142.43 L426.98,142.61 L427.86,142.79 L428.75,142.96 L429.63,143.14 L430.52,143.31 L431.41,143.48 L432.29,143.65 L433.18,143.81 L434.07,143.97 L434.95,144.13 L435.84,144.29 L436.73,144.45 L437.61,144.60 L438.50,144.76" fill="none" stroke="#c0b090" stroke-width="1.2" stroke-linejoin="round"/>
<path d="M261.20,68.91 L262.09,70.18 L262.97,71.27 L263.86,72.13 L264.75,72.75 L265.63,73.13 L266.52,73.27 L267.41,73.11 L268.29,72.63 L269.18,71.91 L270.06,71.04 L270.95,70.12 L271.84,69.16 L272.72,68.13 L273.61,67.01 L274.50,65.81 L275.38,64.55 L276.27,63.27 L277.16,62.00 L278.04,60.78 L278.93,59.63 L279.82,58.59 L280.70,57.69 L281.59,56.94 L282.48,56.36 L283.36,55.96 L284.25,55.72 L285.14,55.64 L286.02,55.69 L286.91,55.86 L287.80,56.13 L288.68,56.48 L289.57,56.91 L290.45,57.40 L291.34,57.94 L292.23,58.53 L293.11,59.16 L294.00,59.83 L294.89,60.54 L295.77,61.29 L296.66,62.07 L297.55,62.84 L298.43,63.64 L299.32,64.48 L300.21,65.34 L301.09,66.23 L301.98,67.14 L302.87,68.07 L303.75,69.01 L304.64,69.97 L305.52,70.94 L306.41,71.91 L307.30,72.89 L308.18,73.86 L309.07,74.83 L309.96,75.80 L310.84,76.76 L311.73,77.71 L312.62,78.65 L313.50,79.58 L314.39,80.51 L315.28,81.42 L316.16,82.32 L317.05,83.22 L317.94,84.11 L318.82,84.99 L319.71,85.86 L320.60,86.73 L321.48,87.59 L322.37,88.44 L323.25,89.28 L324.14,90.12 L325.03,90.95 L325.91,91.77 L326.80,92.58 L327.69,93.38 L328.57,94.17 L329.46,94.96 L330.35,95.73 L331.23,96.49 L332.12,97.24 L333.01,97.97 L333.89,98.70 L334.78,99.41 L335.67,100.10 L336.55,100.78 L337.44,101.45 L338.33,102.10 L339.21,102.73 L340.10,103.35 L340.99,103.96 L341.87,104.55 L342.76,105.13 L343.64,105.70 L344.53,106.27 L345.42,106.82 L346.30,107.38 L347.19,107.93 L348.08,108.48 L348.96,109.03 L349.85,109.58 L350.74,110.14 L351.62,110.71 L352.51,111.28 L353.40,111.85 L354.28,112.43 L355.17,113.01 L356.06,113.60 L356.94,114.19 L357.83,114.79 L358.71,115.38 L359.60,115.98 L360.49,116.57 L361.37,117.17 L362.26,117.76 L363.15,118.34 L364.03,118.92 L364.92,119.50 L365.81,120.07 L366.69,120.63 L367.58,121.19 L368.47,121.73 L369.35,122.27 L370.24,122.80 L371.13,123.32 L372.01,123.84 L372.90,124.34 L373.79,124.84 L374.67,125.33 L375.56,125.82 L376.44,126.29 L377.33,126.76 L378.22,127.22 L379.10,127.67 L379.99,128.12 L380.88,128.56 L381.76,128.99 L382.65,129.41 L383.54,129.83 L384.42,130.25 L385.31,130.65 L386.20,131.05 L387.08,131.45 L387.97,131.84 L388.86,132.22 L389.74,132.60 L390.63,132.98 L391.52,133.35 L392.40,133.72 L393.29,134.08 L394.18,134.44 L395.06,134.79 L395.95,135.14 L396.83,135.48 L397.72,135.82 L398.61,136.16 L399.49,136.49 L400.38,136.82 L401.27,137.14 L402.15,137.45 L403.04,137.76 L403.93,138.06 L404.81,138.36 L405.70,138.65 L406.59,138.94 L407.47,139.22 L408.36,139.50 L409.25,139.77 L410.13,140.03 L411.02,140.29 L411.90,140.55 L412.79,140.80 L413.68,141.04 L414.56,141.28 L415.45,141.52 L416.34,141.75 L417.22,141.98 L418.11,142.21 L419.00,142.43 L419.88,142.64 L420.77,142.86 L421.66,143.07 L422.54,143.28 L423.43,143.48 L424.32,143.68 L425.20,143.87 L426.09,144.07 L426.98,144.25 L427.86,144.44 L428.75,144.62 L429.63,144.79 L430.52,144.96 L431.41,145.13 L432.29,145.29 L433.18,145.45 L434.07,145.60 L434.95,145.75 L435.84,145.90 L436.73,146.04 L437.61,146.18 L438.50,146.32" fill="none" stroke="#0e5a14" stroke-width="1.35" stroke-linejoin="round"/>
<path d="M261.20,65.15 L262.09,66.38 L262.97,67.43 L263.86,68.25 L264.75,68.84 L265.63,69.20 L266.52,69.32 L267.41,69.16 L268.29,68.68 L269.18,67.95 L270.06,67.09 L270.95,66.17 L271.84,65.23 L272.72,64.21 L273.61,63.11 L274.50,61.94 L275.38,60.72 L276.27,59.47 L277.16,58.23 L278.04,57.04 L278.93,55.93 L279.82,54.92 L280.70,54.04 L281.59,53.32 L282.48,52.76 L283.36,52.37 L284.25,52.14 L285.14,52.07 L286.02,52.12 L286.91,52.29 L287.80,52.57 L288.68,52.92 L289.57,53.35 L290.45,53.84 L291.34,54.38 L292.23,54.97 L293.11,55.61 L294.00,56.28 L294.89,56.99 L295.77,57.73 L296.66,58.51 L297.55,59.28 L298.43,60.08 L299.32,60.91 L300.21,61.78 L301.09,62.66 L301.98,63.58 L302.87,64.51 L303.75,65.45 L304.64,66.41 L305.52,67.39 L306.41,68.36 L307.30,69.34 L308.18,70.32 L309.07,71.30 L309.96,72.28 L310.84,73.25 L311.73,74.21 L312.62,75.16 L313.50,76.10 L314.39,77.04 L315.28,77.96 L316.16,78.88 L317.05,79.79 L317.94,80.69 L318.82,81.58 L319.71,82.46 L320.60,83.34 L321.48,84.21 L322.37,85.06 L323.25,85.91 L324.14,86.76 L325.03,87.59 L325.91,88.42 L326.80,89.23 L327.69,90.04 L328.57,90.84 L329.46,91.63 L330.35,92.42 L331.23,93.19 L332.12,93.95 L333.01,94.69 L333.89,95.43 L334.78,96.15 L335.67,96.85 L336.55,97.54 L337.44,98.21 L338.33,98.87 L339.21,99.50 L340.10,100.12 L340.99,100.73 L341.87,101.32 L342.76,101.89 L343.64,102.45 L344.53,103.01 L345.42,103.55 L346.30,104.09 L347.19,104.63 L348.08,105.17 L348.96,105.71 L349.85,106.25 L350.74,106.80 L351.62,107.35 L352.51,107.91 L353.40,108.47 L354.28,109.04 L355.17,109.62 L356.06,110.20 L356.94,110.79 L357.83,111.37 L358.71,111.96 L359.60,112.55 L360.49,113.14 L361.37,113.72 L362.26,114.30 L363.15,114.88 L364.03,115.45 L364.92,116.01 L365.81,116.56 L366.69,117.11 L367.58,117.65 L368.47,118.17 L369.35,118.69 L370.24,119.19 L371.13,119.69 L372.01,120.17 L372.90,120.65 L373.79,121.12 L374.67,121.57 L375.56,122.02 L376.44,122.47 L377.33,122.90 L378.22,123.33 L379.10,123.75 L379.99,124.17 L380.88,124.58 L381.76,124.98 L382.65,125.38 L383.54,125.78 L384.42,126.17 L385.31,126.56 L386.20,126.95 L387.08,127.33 L387.97,127.71 L388.86,128.09 L389.74,128.46 L390.63,128.84 L391.52,129.21 L392.40,129.57 L393.29,129.94 L394.18,130.30 L395.06,130.66 L395.95,131.01 L396.83,131.37 L397.72,131.71 L398.61,132.06 L399.49,132.40 L400.38,132.73 L401.27,133.06 L402.15,133.39 L403.04,133.71 L403.93,134.02 L404.81,134.33 L405.70,134.63 L406.59,134.93 L407.47,135.22 L408.36,135.50 L409.25,135.78 L410.13,136.06 L411.02,136.33 L411.90,136.59 L412.79,136.85 L413.68,137.10 L414.56,137.35 L415.45,137.59 L416.34,137.83 L417.22,138.07 L418.11,138.30 L419.00,138.53 L419.88,138.75 L420.77,138.98 L421.66,139.19 L422.54,139.41 L423.43,139.62 L424.32,139.82 L425.20,140.02 L426.09,140.22 L426.98,140.42 L427.86,140.61 L428.75,140.79 L429.63,140.97 L430.52,141.15 L431.41,141.32 L432.29,141.49 L433.18,141.66 L434.07,141.82 L434.95,141.97 L435.84,142.13 L436.73,142.28 L437.61,142.42 L438.50,142.57" fill="none" stroke="#6a1418" stroke-width="1.35" stroke-linejoin="round"/>
<text x="452.5" y="20" font-size="16" text-anchor="start" font-weight="bold" fill="#000">C</text>
<line x1="477.5" y1="40.2" x2="477.5" y2="159.4" stroke="#000" stroke-width="1.3"/>
<line x1="476.9" y1="158.8" x2="655.5" y2="158.8" stroke="#000" stroke-width="1.3"/>
<line x1="474.3" y1="151.7" x2="477.5" y2="151.7" stroke="#000" stroke-width="1.1"/>
<text x="472.9" y="155.1" font-size="9.8" text-anchor="end" font-weight="bold" fill="#000">0</text>
<line x1="475.7" y1="144.3" x2="477.5" y2="144.3" stroke="#000" stroke-width="1"/>
<line x1="475.7" y1="136.9" x2="477.5" y2="136.9" stroke="#000" stroke-width="1"/>
<line x1="475.7" y1="129.5" x2="477.5" y2="129.5" stroke="#000" stroke-width="1"/>
<line x1="475.7" y1="122.1" x2="477.5" y2="122.1" stroke="#000" stroke-width="1"/>
<line x1="474.3" y1="114.7" x2="477.5" y2="114.7" stroke="#000" stroke-width="1.1"/>
<text x="472.9" y="118.1" font-size="9.8" text-anchor="end" font-weight="bold" fill="#000">1</text>
<line x1="475.7" y1="107.3" x2="477.5" y2="107.3" stroke="#000" stroke-width="1"/>
<line x1="475.7" y1="99.9" x2="477.5" y2="99.9" stroke="#000" stroke-width="1"/>
<line x1="475.7" y1="92.5" x2="477.5" y2="92.5" stroke="#000" stroke-width="1"/>
<line x1="475.7" y1="85.1" x2="477.5" y2="85.1" stroke="#000" stroke-width="1"/>
<line x1="474.3" y1="77.7" x2="477.5" y2="77.7" stroke="#000" stroke-width="1.1"/>
<text x="472.9" y="81.1" font-size="9.8" text-anchor="end" font-weight="bold" fill="#000">2</text>
<line x1="475.7" y1="70.3" x2="477.5" y2="70.3" stroke="#000" stroke-width="1"/>
<line x1="475.7" y1="62.9" x2="477.5" y2="62.9" stroke="#000" stroke-width="1"/>
<line x1="475.7" y1="55.5" x2="477.5" y2="55.5" stroke="#000" stroke-width="1"/>
<line x1="475.7" y1="48.1" x2="477.5" y2="48.1" stroke="#000" stroke-width="1"/>
<line x1="474.3" y1="40.7" x2="477.5" y2="40.7" stroke="#000" stroke-width="1.1"/>
<text x="472.9" y="44.1" font-size="9.8" text-anchor="end" font-weight="bold" fill="#000">3</text>
<line x1="477.5" y1="158.8" x2="477.5" y2="160.6" stroke="#000" stroke-width="1"/>
<line x1="484.9" y1="158.8" x2="484.9" y2="160.6" stroke="#000" stroke-width="1"/>
<line x1="492.29" y1="158.8" x2="492.29" y2="160.6" stroke="#000" stroke-width="1"/>
<line x1="499.69" y1="158.8" x2="499.69" y2="160.6" stroke="#000" stroke-width="1"/>
<line x1="507.08" y1="158.8" x2="507.08" y2="162" stroke="#000" stroke-width="1.1"/>
<text x="507.08" y="173.3" font-size="9.8" text-anchor="middle" font-weight="bold" fill="#000">400</text>
<line x1="514.48" y1="158.8" x2="514.48" y2="160.6" stroke="#000" stroke-width="1"/>
<line x1="521.88" y1="158.8" x2="521.88" y2="160.6" stroke="#000" stroke-width="1"/>
<line x1="529.27" y1="158.8" x2="529.27" y2="160.6" stroke="#000" stroke-width="1"/>
<line x1="536.67" y1="158.8" x2="536.67" y2="160.6" stroke="#000" stroke-width="1"/>
<line x1="544.06" y1="158.8" x2="544.06" y2="162" stroke="#000" stroke-width="1.1"/>
<text x="544.06" y="173.3" font-size="9.8" text-anchor="middle" font-weight="bold" fill="#000">500</text>
<line x1="551.46" y1="158.8" x2="551.46" y2="160.6" stroke="#000" stroke-width="1"/>
<line x1="558.85" y1="158.8" x2="558.85" y2="160.6" stroke="#000" stroke-width="1"/>
<line x1="566.25" y1="158.8" x2="566.25" y2="160.6" stroke="#000" stroke-width="1"/>
<line x1="573.65" y1="158.8" x2="573.65" y2="160.6" stroke="#000" stroke-width="1"/>
<line x1="581.04" y1="158.8" x2="581.04" y2="162" stroke="#000" stroke-width="1.1"/>
<text x="581.04" y="173.3" font-size="9.8" text-anchor="middle" font-weight="bold" fill="#000">600</text>
<line x1="588.44" y1="158.8" x2="588.44" y2="160.6" stroke="#000" stroke-width="1"/>
<line x1="595.83" y1="158.8" x2="595.83" y2="160.6" stroke="#000" stroke-width="1"/>
<line x1="603.23" y1="158.8" x2="603.23" y2="160.6" stroke="#000" stroke-width="1"/>
<line x1="610.62" y1="158.8" x2="610.62" y2="160.6" stroke="#000" stroke-width="1"/>
<line x1="618.02" y1="158.8" x2="618.02" y2="162" stroke="#000" stroke-width="1.1"/>
<text x="618.02" y="173.3" font-size="9.8" text-anchor="middle" font-weight="bold" fill="#000">700</text>
<line x1="625.42" y1="158.8" x2="625.42" y2="160.6" stroke="#000" stroke-width="1"/>
<line x1="632.81" y1="158.8" x2="632.81" y2="160.6" stroke="#000" stroke-width="1"/>
<line x1="640.21" y1="158.8" x2="640.21" y2="160.6" stroke="#000" stroke-width="1"/>
<line x1="647.6" y1="158.8" x2="647.6" y2="160.6" stroke="#000" stroke-width="1"/>
<line x1="655" y1="158.8" x2="655" y2="162" stroke="#000" stroke-width="1.1"/>
<text x="655" y="173.3" font-size="9.8" text-anchor="middle" font-weight="bold" fill="#000">800</text>
<text x="566.6" y="187.6" font-size="9.8" text-anchor="middle" font-weight="bold" fill="#000">Wavelength (nm)</text>
<text x="462.3" y="99.6" font-size="9.65" text-anchor="middle" font-weight="bold" fill="#000" transform="rotate(-90 462.3 99.6)">Absorbance</text>
<path d="M477.5,145.7 C477.92,146.08 478.75,147.28 480,148 C481.25,148.72 482.5,149.47 485,150 C487.5,150.53 487.5,150.93 495,151.2 C502.5,151.47 512.5,151.5 530,151.6 C547.5,151.7 579.17,151.73 600,151.8 C620.83,151.87 645.83,151.97 655,152" fill="none" stroke="#111" stroke-width="1.8" stroke-linejoin="round"/>
<path d="M560,151.6 L566,151.6 M604,151.8 L612,151.8" fill="none" stroke="#8a2a2a" stroke-width="1" stroke-linejoin="round"/>
<path d="M477.5,127 C477.85,127.33 478.68,129 479.6,129 C480.52,129 481.93,128.17 483,127 C484.07,125.83 484.83,125.42 486,122 C487.17,118.58 488.83,111.17 490,106.5 C491.17,101.83 491.95,97.17 493,94 C494.05,90.83 495.13,88 496.3,87.5 C497.47,87 498.55,88.08 500,91 C501.45,93.92 503.33,100.08 505,105 C506.67,109.92 508.33,116.33 510,120.5 C511.67,124.67 513.33,127.75 515,130 C516.67,132.25 517.5,132.58 520,134 C522.5,135.42 526.67,137 530,138.5 C533.33,140 536.67,141.75 540,143 C543.33,144.25 546.67,145.67 550,146 C553.33,146.33 556.67,146 560,145 C563.33,144 566.67,142.33 570,140 C573.33,137.67 576.67,134.42 580,131 C583.33,127.58 586.73,122.67 590,119.5 C593.27,116.33 596.77,112.75 599.6,112 C602.43,111.25 604.43,113 607,115 C609.57,117 612,120.5 615,124 C618,127.5 621.13,132.83 625,136 C628.87,139.17 634.53,142.08 638.2,143 C641.87,143.92 644.2,142.33 647,141.5 C649.8,140.67 653.67,138.58 655,138" fill="none" stroke="#7a78d8" stroke-width="1.1" stroke-linejoin="round"/>
<path d="M477.5,120.4 C477.85,120.7 478.68,122.27 479.6,122.2 C480.52,122.13 481.93,121.28 483,120 C484.07,118.72 484.83,117.92 486,114.5 C487.17,111.08 488.83,104 490,99.5 C491.17,95 491.95,90.6 493,87.5 C494.05,84.4 495.13,81.4 496.3,80.9 C497.47,80.4 498.55,81.48 500,84.5 C501.45,87.52 503.33,93.83 505,99 C506.67,104.17 508.33,111.17 510,115.5 C511.67,119.83 513.33,122.83 515,125 C516.67,127.17 517.5,127.17 520,128.5 C522.5,129.83 526.67,131.42 530,133 C533.33,134.58 536.67,136.93 540,138 C543.33,139.07 546.67,139.5 550,139.4 C553.33,139.3 556.67,138.63 560,137.4 C563.33,136.17 566.67,134.57 570,132 C573.33,129.43 576.67,125.67 580,122 C583.33,118.33 586.73,112.83 590,110 C593.27,107.17 596.77,105.33 599.6,105 C602.43,104.67 604.43,106 607,108 C609.57,110 612,113.5 615,117 C618,120.5 621.13,125.95 625,129 C628.87,132.05 634.53,134.47 638.2,135.3 C641.87,136.13 644.2,134.77 647,134 C649.8,133.23 653.67,131.25 655,130.7" fill="none" stroke="#1c1c68" stroke-width="1.6" stroke-linejoin="round"/>
<path d="M485,29 L531.8,29 L531.8,90.3 L503.2,90.3 L503.2,59.5 L485,59.5 Z" fill="#c4c6c6"/>
<path d="M487,40 L499,40 L497,58 L489,58 Z" fill="#cacdcd"/>
<path d="M488.5,44 L490.5,57 M497.5,44 L495.5,57" stroke="#dcdede" stroke-width="0.9" fill="none"/>
<path d="M502.5,40 L514.5,40 L512.5,58 L504.5,58 Z" fill="#cacdcd"/>
<path d="M504,44 L506,57 M513,44 L511,57" stroke="#dcdede" stroke-width="0.9" fill="none"/>
<path d="M518,40 L530,40 L528,58 L520,58 Z" fill="#cacdcd"/>
<path d="M519.5,44 L521.5,57 M528.5,44 L526.5,57" stroke="#dcdede" stroke-width="0.9" fill="none"/>
<path d="M516,62 L520,62 L519,76 L517,76 Z" fill="#d2d4d4"/>
<path d="M504.7,73.9 L514.3,73.9 L511.8,88.6 Q509.75,89.8 507.7,88.6 Z" fill="#1f6c8a"/>
<path d="M505,74.5 L514,74.5" stroke="#3f8eae" stroke-width="1.2"/>
<path d="M520.9,73.9 L530.4,73.9 L528,88.6 Q525.75,89.8 523.5,88.6 Z" fill="#1f6c8a"/>
<path d="M521.2,74.5 L530.1,74.5" stroke="#3f8eae" stroke-width="1.2"/>
<text x="492.8" y="38.7" font-size="8.3" text-anchor="middle" font-weight="bold" fill="#1a1a1a">1</text>
<text x="508.4" y="38.7" font-size="8.3" text-anchor="middle" font-weight="bold" fill="#1a1a1a">2</text>
<text x="524" y="38.7" font-size="8.3" text-anchor="middle" font-weight="bold" fill="#1a1a1a">3</text>
<text x="509" y="69.8" font-size="8.3" text-anchor="middle" font-weight="bold" fill="#1a1a1a">4</text>
<text x="525" y="69.8" font-size="8.3" text-anchor="middle" font-weight="bold" fill="#1a1a1a">5</text>
<line x1="533" y1="38.5" x2="544.6" y2="38.5" stroke="#111" stroke-width="1.6"/>
<text x="552.5" y="42" font-size="9.85" text-anchor="start" font-weight="bold" fill="#000">1:TMB+H<tspan dy="2.95" font-size="7.68">2</tspan><tspan dy="-2.95">O</tspan><tspan dy="2.95" font-size="7.68">2</tspan></text>
<line x1="533" y1="50.3" x2="544.6" y2="50.3" stroke="#555" stroke-width="0.9"/>
<text x="552.5" y="53.8" font-size="9.85" text-anchor="start" font-weight="bold" fill="#000">2:TMB+FeS<tspan dy="2.95" font-size="7.68">2</tspan></text>
<line x1="533" y1="62.4" x2="544.6" y2="62.4" stroke="#8a2a2a" stroke-width="1.1"/>
<text x="552.5" y="65.9" font-size="9.85" text-anchor="start" font-weight="bold" fill="#000">3:TMB+FeS<tspan dy="2.95" font-size="7.68">2</tspan><tspan dy="-2.95">@CP</tspan></text>
<line x1="533" y1="75.7" x2="544.6" y2="75.7" stroke="#9a9ae0" stroke-width="1.5"/>
<text x="552.5" y="79.2" font-size="9.85" text-anchor="start" font-weight="bold" fill="#000">4:TMB+FeS<tspan dy="2.95" font-size="7.68">2</tspan><tspan dy="-2.95">+H</tspan><tspan dy="2.95" font-size="7.68">2</tspan><tspan dy="-2.95">O</tspan><tspan dy="2.95" font-size="7.68">2</tspan></text>
<line x1="533" y1="87.8" x2="544.6" y2="87.8" stroke="#1c1c80" stroke-width="1.8"/>
<text x="552.5" y="91.3" font-size="9.85" text-anchor="start" font-weight="bold" fill="#000">5:TMB+FeS<tspan dy="2.95" font-size="7.68">2</tspan><tspan dy="-2.95">@CP+H</tspan><tspan dy="2.95" font-size="7.68">2</tspan><tspan dy="-2.95">O</tspan><tspan dy="2.95" font-size="7.68">2</tspan></text>
<text x="3" y="204" font-size="16" text-anchor="start" font-weight="bold" fill="#000">D</text>
<line x1="35" y1="216" x2="35" y2="335.7" stroke="#000" stroke-width="1.3"/>
<line x1="34.4" y1="335.1" x2="220" y2="335.1" stroke="#000" stroke-width="1.3"/>
<line x1="31.8" y1="335.1" x2="35" y2="335.1" stroke="#000" stroke-width="1.1"/>
<text x="30.4" y="338.5" font-size="9.8" text-anchor="end" font-weight="bold" fill="#000">0</text>
<line x1="33.2" y1="330.16" x2="35" y2="330.16" stroke="#000" stroke-width="1"/>
<line x1="33.2" y1="325.22" x2="35" y2="325.22" stroke="#000" stroke-width="1"/>
<line x1="33.2" y1="320.28" x2="35" y2="320.28" stroke="#000" stroke-width="1"/>
<line x1="31.8" y1="315.33" x2="35" y2="315.33" stroke="#000" stroke-width="1.1"/>
<text x="30.4" y="318.73" font-size="9.8" text-anchor="end" font-weight="bold" fill="#000">20</text>
<line x1="33.2" y1="310.39" x2="35" y2="310.39" stroke="#000" stroke-width="1"/>
<line x1="33.2" y1="305.45" x2="35" y2="305.45" stroke="#000" stroke-width="1"/>
<line x1="33.2" y1="300.51" x2="35" y2="300.51" stroke="#000" stroke-width="1"/>
<line x1="31.8" y1="295.57" x2="35" y2="295.57" stroke="#000" stroke-width="1.1"/>
<text x="30.4" y="298.97" font-size="9.8" text-anchor="end" font-weight="bold" fill="#000">40</text>
<line x1="33.2" y1="290.62" x2="35" y2="290.62" stroke="#000" stroke-width="1"/>
<line x1="33.2" y1="285.68" x2="35" y2="285.68" stroke="#000" stroke-width="1"/>
<line x1="33.2" y1="280.74" x2="35" y2="280.74" stroke="#000" stroke-width="1"/>
<line x1="31.8" y1="275.8" x2="35" y2="275.8" stroke="#000" stroke-width="1.1"/>
<text x="30.4" y="279.2" font-size="9.8" text-anchor="end" font-weight="bold" fill="#000">60</text>
<line x1="33.2" y1="270.86" x2="35" y2="270.86" stroke="#000" stroke-width="1"/>
<line x1="33.2" y1="265.92" x2="35" y2="265.92" stroke="#000" stroke-width="1"/>
<line x1="33.2" y1="260.98" x2="35" y2="260.98" stroke="#000" stroke-width="1"/>
<line x1="31.8" y1="256.03" x2="35" y2="256.03" stroke="#000" stroke-width="1.1"/>
<text x="30.4" y="259.43" font-size="9.8" text-anchor="end" font-weight="bold" fill="#000">80</text>
<line x1="33.2" y1="251.09" x2="35" y2="251.09" stroke="#000" stroke-width="1"/>
<line x1="33.2" y1="246.15" x2="35" y2="246.15" stroke="#000" stroke-width="1"/>
<line x1="33.2" y1="241.21" x2="35" y2="241.21" stroke="#000" stroke-width="1"/>
<line x1="31.8" y1="236.27" x2="35" y2="236.27" stroke="#000" stroke-width="1.1"/>
<text x="30.4" y="239.67" font-size="9.8" text-anchor="end" font-weight="bold" fill="#000">100</text>
<line x1="33.2" y1="231.32" x2="35" y2="231.32" stroke="#000" stroke-width="1"/>
<line x1="33.2" y1="226.38" x2="35" y2="226.38" stroke="#000" stroke-width="1"/>
<line x1="33.2" y1="221.44" x2="35" y2="221.44" stroke="#000" stroke-width="1"/>
<line x1="31.8" y1="216.5" x2="35" y2="216.5" stroke="#000" stroke-width="1.1"/>
<text x="30.4" y="219.9" font-size="9.8" text-anchor="end" font-weight="bold" fill="#000">120</text>
<rect x="35.4" y="236.27" width="4.8" height="98.83" fill="#000"/>
<rect x="40.2" y="236.27" width="5.4" height="98.83" fill="#8686f4"/>
<line x1="37.8" y1="236.77" x2="37.8" y2="234.78" stroke="#000" stroke-width="1"/>
<line x1="36.5" y1="234.78" x2="39.1" y2="234.78" stroke="#000" stroke-width="1"/>
<line x1="42.9" y1="236.77" x2="42.9" y2="235.48" stroke="#000" stroke-width="1"/>
<line x1="41.6" y1="235.48" x2="44.2" y2="235.48" stroke="#000" stroke-width="1"/>
<line x1="40.4" y1="335.1" x2="40.4" y2="338.9" stroke="#000" stroke-width="1.2"/>
<rect x="49.94" y="244.17" width="4.8" height="90.93" fill="#000"/>
<rect x="54.74" y="244.17" width="5.4" height="90.93" fill="#8686f4"/>
<line x1="52.34" y1="244.67" x2="52.34" y2="243.38" stroke="#000" stroke-width="1"/>
<line x1="51.04" y1="243.38" x2="53.64" y2="243.38" stroke="#000" stroke-width="1"/>
<line x1="57.44" y1="244.67" x2="57.44" y2="242.2" stroke="#000" stroke-width="1"/>
<line x1="56.14" y1="242.2" x2="58.74" y2="242.2" stroke="#000" stroke-width="1"/>
<line x1="54.94" y1="335.1" x2="54.94" y2="338.9" stroke="#000" stroke-width="1.2"/>
<rect x="64.48" y="265.92" width="4.8" height="69.18" fill="#000"/>
<rect x="69.28" y="256.03" width="5.4" height="79.07" fill="#8686f4"/>
<line x1="66.88" y1="266.42" x2="66.88" y2="265.13" stroke="#000" stroke-width="1"/>
<line x1="65.58" y1="265.13" x2="68.18" y2="265.13" stroke="#000" stroke-width="1"/>
<line x1="71.98" y1="256.53" x2="71.98" y2="255.24" stroke="#000" stroke-width="1"/>
<line x1="70.68" y1="255.24" x2="73.28" y2="255.24" stroke="#000" stroke-width="1"/>
<line x1="69.48" y1="335.1" x2="69.48" y2="338.9" stroke="#000" stroke-width="1.2"/>
<rect x="79.02" y="273.82" width="4.8" height="61.28" fill="#000"/>
<rect x="83.82" y="259.99" width="5.4" height="75.11" fill="#8686f4"/>
<line x1="81.42" y1="274.32" x2="81.42" y2="270.86" stroke="#000" stroke-width="1"/>
<line x1="80.12" y1="270.86" x2="82.72" y2="270.86" stroke="#000" stroke-width="1"/>
<line x1="86.52" y1="260.49" x2="86.52" y2="259.2" stroke="#000" stroke-width="1"/>
<line x1="85.22" y1="259.2" x2="87.82" y2="259.2" stroke="#000" stroke-width="1"/>
<line x1="84.02" y1="335.1" x2="84.02" y2="338.9" stroke="#000" stroke-width="1.2"/>
<rect x="93.56" y="281.73" width="4.8" height="53.37" fill="#000"/>
<rect x="98.36" y="269.87" width="5.4" height="65.23" fill="#8686f4"/>
<line x1="95.96" y1="282.23" x2="95.96" y2="278.76" stroke="#000" stroke-width="1"/>
<line x1="94.66" y1="278.76" x2="97.26" y2="278.76" stroke="#000" stroke-width="1"/>
<line x1="101.06" y1="270.37" x2="101.06" y2="266.41" stroke="#000" stroke-width="1"/>
<line x1="99.76" y1="266.41" x2="102.36" y2="266.41" stroke="#000" stroke-width="1"/>
<line x1="98.56" y1="335.1" x2="98.56" y2="338.9" stroke="#000" stroke-width="1.2"/>
<rect x="108.1" y="287.17" width="4.8" height="47.93" fill="#000"/>
<rect x="112.9" y="276.29" width="5.4" height="58.81" fill="#8686f4"/>
<line x1="110.5" y1="287.67" x2="110.5" y2="286.38" stroke="#000" stroke-width="1"/>
<line x1="109.2" y1="286.38" x2="111.8" y2="286.38" stroke="#000" stroke-width="1"/>
<line x1="115.6" y1="276.79" x2="115.6" y2="273.33" stroke="#000" stroke-width="1"/>
<line x1="114.3" y1="273.33" x2="116.9" y2="273.33" stroke="#000" stroke-width="1"/>
<line x1="113.1" y1="335.1" x2="113.1" y2="338.9" stroke="#000" stroke-width="1.2"/>
<rect x="122.64" y="292.9" width="4.8" height="42.2" fill="#000"/>
<rect x="127.44" y="283.9" width="5.4" height="51.2" fill="#8686f4"/>
<line x1="125.04" y1="293.4" x2="125.04" y2="292.11" stroke="#000" stroke-width="1"/>
<line x1="123.74" y1="292.11" x2="126.34" y2="292.11" stroke="#000" stroke-width="1"/>
<line x1="130.14" y1="284.4" x2="130.14" y2="282.72" stroke="#000" stroke-width="1"/>
<line x1="128.84" y1="282.72" x2="131.44" y2="282.72" stroke="#000" stroke-width="1"/>
<line x1="127.64" y1="335.1" x2="127.64" y2="338.9" stroke="#000" stroke-width="1.2"/>
<rect x="137.18" y="297.74" width="4.8" height="37.36" fill="#000"/>
<rect x="141.98" y="288.06" width="5.4" height="47.04" fill="#8686f4"/>
<line x1="139.58" y1="298.24" x2="139.58" y2="296.95" stroke="#000" stroke-width="1"/>
<line x1="138.28" y1="296.95" x2="140.88" y2="296.95" stroke="#000" stroke-width="1"/>
<line x1="144.68" y1="288.56" x2="144.68" y2="286.57" stroke="#000" stroke-width="1"/>
<line x1="143.38" y1="286.57" x2="145.98" y2="286.57" stroke="#000" stroke-width="1"/>
<line x1="142.18" y1="335.1" x2="142.18" y2="338.9" stroke="#000" stroke-width="1.2"/>
<rect x="151.72" y="303.97" width="4.8" height="31.13" fill="#000"/>
<rect x="156.52" y="297.74" width="5.4" height="37.36" fill="#8686f4"/>
<line x1="154.12" y1="304.47" x2="154.12" y2="303.18" stroke="#000" stroke-width="1"/>
<line x1="152.82" y1="303.18" x2="155.42" y2="303.18" stroke="#000" stroke-width="1"/>
<line x1="159.22" y1="298.24" x2="159.22" y2="296.95" stroke="#000" stroke-width="1"/>
<line x1="157.92" y1="296.95" x2="160.52" y2="296.95" stroke="#000" stroke-width="1"/>
<line x1="156.72" y1="335.1" x2="156.72" y2="338.9" stroke="#000" stroke-width="1.2"/>
<rect x="166.26" y="319.78" width="4.8" height="15.32" fill="#000"/>
<rect x="171.06" y="312.17" width="5.4" height="22.93" fill="#8686f4"/>
<line x1="168.66" y1="320.28" x2="168.66" y2="318.99" stroke="#000" stroke-width="1"/>
<line x1="167.36" y1="318.99" x2="169.96" y2="318.99" stroke="#000" stroke-width="1"/>
<line x1="173.76" y1="312.67" x2="173.76" y2="311.38" stroke="#000" stroke-width="1"/>
<line x1="172.46" y1="311.38" x2="175.06" y2="311.38" stroke="#000" stroke-width="1"/>
<line x1="171.26" y1="335.1" x2="171.26" y2="338.9" stroke="#000" stroke-width="1.2"/>
<rect x="180.8" y="324.43" width="4.8" height="10.67" fill="#000"/>
<rect x="185.6" y="323.04" width="5.4" height="12.06" fill="#8686f4"/>
<line x1="183.2" y1="324.93" x2="183.2" y2="323.64" stroke="#000" stroke-width="1"/>
<line x1="181.9" y1="323.64" x2="184.5" y2="323.64" stroke="#000" stroke-width="1"/>
<line x1="188.3" y1="323.54" x2="188.3" y2="322.05" stroke="#000" stroke-width="1"/>
<line x1="187" y1="322.05" x2="189.6" y2="322.05" stroke="#000" stroke-width="1"/>
<line x1="185.8" y1="335.1" x2="185.8" y2="338.9" stroke="#000" stroke-width="1.2"/>
<rect x="195.34" y="324.23" width="4.8" height="10.87" fill="#000"/>
<rect x="200.14" y="324.23" width="5.4" height="10.87" fill="#8686f4"/>
<line x1="197.74" y1="324.73" x2="197.74" y2="323.44" stroke="#000" stroke-width="1"/>
<line x1="196.44" y1="323.44" x2="199.04" y2="323.44" stroke="#000" stroke-width="1"/>
<line x1="202.84" y1="324.73" x2="202.84" y2="323.44" stroke="#000" stroke-width="1"/>
<line x1="201.54" y1="323.44" x2="204.14" y2="323.44" stroke="#000" stroke-width="1"/>
<line x1="200.34" y1="335.1" x2="200.34" y2="338.9" stroke="#000" stroke-width="1.2"/>
<rect x="209.88" y="324.72" width="4.8" height="10.38" fill="#000"/>
<rect x="214.68" y="324.72" width="5.4" height="10.38" fill="#8686f4"/>
<line x1="212.28" y1="325.22" x2="212.28" y2="323.93" stroke="#000" stroke-width="1"/>
<line x1="210.98" y1="323.93" x2="213.58" y2="323.93" stroke="#000" stroke-width="1"/>
<line x1="217.38" y1="325.22" x2="217.38" y2="323.93" stroke="#000" stroke-width="1"/>
<line x1="216.08" y1="323.93" x2="218.68" y2="323.93" stroke="#000" stroke-width="1"/>
<line x1="214.88" y1="335.1" x2="214.88" y2="338.9" stroke="#000" stroke-width="1.2"/>
<rect x="51" y="212.2" width="14.3" height="7.2" fill="#000"/>
<text x="72.6" y="218.4" font-size="9.8" text-anchor="start" font-weight="bold" fill="#000">FeS<tspan dy="2.94" font-size="7.64">2</tspan></text>
<rect x="104.8" y="212.2" width="14" height="7.2" fill="#8686f4"/>
<text x="125.8" y="218.4" font-size="9.8" text-anchor="start" font-weight="bold" fill="#000">FeS<tspan dy="2.94" font-size="7.64">2</tspan><tspan dy="-2.94">@CP</tspan></text>
<text x="43.2" y="348.6" font-size="10" text-anchor="end" font-weight="bold" fill="#000" transform="rotate(-45 43.2 348.6)">2.2</text>
<text x="57.74" y="348.6" font-size="10" text-anchor="end" font-weight="bold" fill="#000" transform="rotate(-45 57.74 348.6)">2.5</text>
<text x="72.28" y="348.6" font-size="10" text-anchor="end" font-weight="bold" fill="#000" transform="rotate(-45 72.28 348.6)">3.0</text>
<text x="86.82" y="348.6" font-size="10" text-anchor="end" font-weight="bold" fill="#000" transform="rotate(-45 86.82 348.6)">3.5</text>
<text x="101.36" y="348.6" font-size="10" text-anchor="end" font-weight="bold" fill="#000" transform="rotate(-45 101.36 348.6)">4.0</text>
<text x="115.9" y="348.6" font-size="10" text-anchor="end" font-weight="bold" fill="#000" transform="rotate(-45 115.9 348.6)">4.5</text>
<text x="130.44" y="348.6" font-size="10" text-anchor="end" font-weight="bold" fill="#000" transform="rotate(-45 130.44 348.6)">5.0</text>
<text x="144.98" y="348.6" font-size="10" text-anchor="end" font-weight="bold" fill="#000" transform="rotate(-45 144.98 348.6)">5.5</text>
<text x="159.52" y="348.6" font-size="10" text-anchor="end" font-weight="bold" fill="#000" transform="rotate(-45 159.52 348.6)">6.0</text>
<text x="174.06" y="348.6" font-size="10" text-anchor="end" font-weight="bold" fill="#000" transform="rotate(-45 174.06 348.6)">6.5</text>
<text x="188.6" y="348.6" font-size="10" text-anchor="end" font-weight="bold" fill="#000" transform="rotate(-45 188.6 348.6)">7.0</text>
<text x="203.14" y="348.6" font-size="10" text-anchor="end" font-weight="bold" fill="#000" transform="rotate(-45 203.14 348.6)">7.5</text>
<text x="217.68" y="348.6" font-size="10" text-anchor="end" font-weight="bold" fill="#000" transform="rotate(-45 217.68 348.6)">8.0</text>
<text x="128.2" y="371.6" font-size="10" text-anchor="middle" font-weight="bold" fill="#000">pH</text>
<text x="10.9" y="275.6" font-size="9.65" text-anchor="middle" font-weight="bold" fill="#000" transform="rotate(-90 10.9 275.6)">Relative activity (%)</text>
<line x1="37.5" y1="230.7" x2="43.3" y2="230.7" stroke="#000" stroke-width="1.3"/>
<text x="40.4" y="227.5" font-size="10.2" text-anchor="middle" font-weight="bold" fill="#000">ns</text>
<line x1="66.58" y1="249.9" x2="72.38" y2="249.9" stroke="#000" stroke-width="1.3"/>
<text x="69.55" y="251.69" font-size="10.5" text-anchor="middle" font-weight="bold" fill="#202020" letter-spacing="0.15">***</text>
<line x1="81.12" y1="254.9" x2="86.92" y2="254.9" stroke="#000" stroke-width="1.3"/>
<text x="84.09" y="256.69" font-size="10.5" text-anchor="middle" font-weight="bold" fill="#202020" letter-spacing="0.15">***</text>
<line x1="95.66" y1="263.8" x2="101.46" y2="263.8" stroke="#000" stroke-width="1.3"/>
<text x="98.64" y="265.59" font-size="10.5" text-anchor="middle" font-weight="bold" fill="#202020" letter-spacing="0.15">***</text>
<line x1="110.2" y1="269.1" x2="116" y2="269.1" stroke="#000" stroke-width="1.3"/>
<text x="113.17" y="270.89" font-size="10.5" text-anchor="middle" font-weight="bold" fill="#202020" letter-spacing="0.15">***</text>
<line x1="124.74" y1="277.9" x2="130.54" y2="277.9" stroke="#000" stroke-width="1.3"/>
<text x="127.71" y="279.69" font-size="10.5" text-anchor="middle" font-weight="bold" fill="#202020" letter-spacing="0.15">***</text>
<line x1="139.28" y1="283" x2="145.08" y2="283" stroke="#000" stroke-width="1.3"/>
<text x="142.25" y="284.79" font-size="10.5" text-anchor="middle" font-weight="bold" fill="#202020" letter-spacing="0.15">***</text>
<line x1="153.82" y1="292.3" x2="159.62" y2="292.3" stroke="#000" stroke-width="1.3"/>
<text x="156.79" y="294.09" font-size="10.5" text-anchor="middle" font-weight="bold" fill="#202020" letter-spacing="0.15">***</text>
<line x1="168.36" y1="307.5" x2="174.16" y2="307.5" stroke="#000" stroke-width="1.3"/>
<text x="171.33" y="309.29" font-size="10.5" text-anchor="middle" font-weight="bold" fill="#202020" letter-spacing="0.15">***</text>
<line x1="182.9" y1="318.3" x2="188.7" y2="318.3" stroke="#000" stroke-width="1.3"/>
<text x="185.8" y="315.1" font-size="10.2" text-anchor="middle" font-weight="bold" fill="#000">ns</text>
<line x1="197.44" y1="319.2" x2="203.24" y2="319.2" stroke="#000" stroke-width="1.3"/>
<text x="200.34" y="316" font-size="10.2" text-anchor="middle" font-weight="bold" fill="#000">ns</text>
<line x1="211.98" y1="318.8" x2="217.78" y2="318.8" stroke="#000" stroke-width="1.3"/>
<text x="214.88" y="315.6" font-size="10.2" text-anchor="middle" font-weight="bold" fill="#000">ns</text>
<text x="55.6" y="236.6" font-size="10.2" text-anchor="middle" font-weight="bold" fill="#000">ns</text>
<text x="232" y="204" font-size="16" text-anchor="start" font-weight="bold" fill="#000">E</text>
<line x1="260.9" y1="215.5" x2="260.9" y2="335.7" stroke="#000" stroke-width="1.3"/>
<line x1="260.3" y1="335.1" x2="439.7" y2="335.1" stroke="#000" stroke-width="1.3"/>
<line x1="257.7" y1="335.1" x2="260.9" y2="335.1" stroke="#000" stroke-width="1.1"/>
<text x="256.3" y="338.5" font-size="9.8" text-anchor="end" font-weight="bold" fill="#000">0</text>
<line x1="259.1" y1="329.15" x2="260.9" y2="329.15" stroke="#000" stroke-width="1"/>
<line x1="259.1" y1="323.19" x2="260.9" y2="323.19" stroke="#000" stroke-width="1"/>
<line x1="259.1" y1="317.24" x2="260.9" y2="317.24" stroke="#000" stroke-width="1"/>
<line x1="259.1" y1="311.28" x2="260.9" y2="311.28" stroke="#000" stroke-width="1"/>
<line x1="257.7" y1="305.33" x2="260.9" y2="305.33" stroke="#000" stroke-width="1.1"/>
<text x="256.3" y="308.73" font-size="9.8" text-anchor="end" font-weight="bold" fill="#000">50</text>
<line x1="259.1" y1="299.37" x2="260.9" y2="299.37" stroke="#000" stroke-width="1"/>
<line x1="259.1" y1="293.42" x2="260.9" y2="293.42" stroke="#000" stroke-width="1"/>
<line x1="259.1" y1="287.46" x2="260.9" y2="287.46" stroke="#000" stroke-width="1"/>
<line x1="259.1" y1="281.5" x2="260.9" y2="281.5" stroke="#000" stroke-width="1"/>
<line x1="257.7" y1="275.55" x2="260.9" y2="275.55" stroke="#000" stroke-width="1.1"/>
<text x="256.3" y="278.95" font-size="9.8" text-anchor="end" font-weight="bold" fill="#000">100</text>
<line x1="259.1" y1="269.6" x2="260.9" y2="269.6" stroke="#000" stroke-width="1"/>
<line x1="259.1" y1="263.64" x2="260.9" y2="263.64" stroke="#000" stroke-width="1"/>
<line x1="259.1" y1="257.69" x2="260.9" y2="257.69" stroke="#000" stroke-width="1"/>
<line x1="259.1" y1="251.73" x2="260.9" y2="251.73" stroke="#000" stroke-width="1"/>
<line x1="257.7" y1="245.78" x2="260.9" y2="245.78" stroke="#000" stroke-width="1.1"/>
<text x="256.3" y="249.18" font-size="9.8" text-anchor="end" font-weight="bold" fill="#000">150</text>
<line x1="259.1" y1="239.82" x2="260.9" y2="239.82" stroke="#000" stroke-width="1"/>
<line x1="259.1" y1="233.87" x2="260.9" y2="233.87" stroke="#000" stroke-width="1"/>
<line x1="259.1" y1="227.91" x2="260.9" y2="227.91" stroke="#000" stroke-width="1"/>
<line x1="259.1" y1="221.95" x2="260.9" y2="221.95" stroke="#000" stroke-width="1"/>
<line x1="257.7" y1="216" x2="260.9" y2="216" stroke="#000" stroke-width="1.1"/>
<text x="256.3" y="219.4" font-size="9.8" text-anchor="end" font-weight="bold" fill="#000">200</text>
<rect x="262.2" y="330.93" width="7.6" height="4.17" fill="#000"/>
<rect x="272.1" y="330.34" width="7.8" height="4.76" fill="#8686f4"/>
<line x1="266" y1="331.43" x2="266" y2="330.34" stroke="#000" stroke-width="1"/>
<line x1="264.7" y1="330.34" x2="267.3" y2="330.34" stroke="#000" stroke-width="1"/>
<line x1="276" y1="330.84" x2="276" y2="329.74" stroke="#000" stroke-width="1"/>
<line x1="274.7" y1="329.74" x2="277.3" y2="329.74" stroke="#000" stroke-width="1"/>
<line x1="270.9" y1="335.1" x2="270.9" y2="338.9" stroke="#000" stroke-width="1.2"/>
<rect x="288.5" y="318.43" width="7.6" height="16.67" fill="#000"/>
<rect x="298.4" y="317.53" width="7.8" height="17.57" fill="#8686f4"/>
<line x1="292.3" y1="318.93" x2="292.3" y2="316.64" stroke="#000" stroke-width="1"/>
<line x1="291" y1="316.64" x2="293.6" y2="316.64" stroke="#000" stroke-width="1"/>
<line x1="302.3" y1="318.03" x2="302.3" y2="316.94" stroke="#000" stroke-width="1"/>
<line x1="301" y1="316.94" x2="303.6" y2="316.94" stroke="#000" stroke-width="1"/>
<line x1="297.2" y1="335.1" x2="297.2" y2="338.9" stroke="#000" stroke-width="1.2"/>
<rect x="314.8" y="320.21" width="7.6" height="14.89" fill="#000"/>
<rect x="324.7" y="313.66" width="7.8" height="21.44" fill="#8686f4"/>
<line x1="318.6" y1="320.71" x2="318.6" y2="319.62" stroke="#000" stroke-width="1"/>
<line x1="317.3" y1="319.62" x2="319.9" y2="319.62" stroke="#000" stroke-width="1"/>
<line x1="328.6" y1="314.16" x2="328.6" y2="311.28" stroke="#000" stroke-width="1"/>
<line x1="327.3" y1="311.28" x2="329.9" y2="311.28" stroke="#000" stroke-width="1"/>
<line x1="323.5" y1="335.1" x2="323.5" y2="338.9" stroke="#000" stroke-width="1.2"/>
<rect x="341.1" y="306.75" width="7.6" height="28.35" fill="#000"/>
<rect x="351" y="300.56" width="7.8" height="34.54" fill="#8686f4"/>
<line x1="344.9" y1="307.25" x2="344.9" y2="306.16" stroke="#000" stroke-width="1"/>
<line x1="343.6" y1="306.16" x2="346.2" y2="306.16" stroke="#000" stroke-width="1"/>
<line x1="354.9" y1="301.06" x2="354.9" y2="299.37" stroke="#000" stroke-width="1"/>
<line x1="353.6" y1="299.37" x2="356.2" y2="299.37" stroke="#000" stroke-width="1"/>
<line x1="349.8" y1="335.1" x2="349.8" y2="338.9" stroke="#000" stroke-width="1.2"/>
<rect x="367.4" y="301.34" width="7.6" height="33.76" fill="#000"/>
<rect x="377.3" y="295.98" width="7.8" height="39.12" fill="#8686f4"/>
<line x1="371.2" y1="301.84" x2="371.2" y2="300.74" stroke="#000" stroke-width="1"/>
<line x1="369.9" y1="300.74" x2="372.5" y2="300.74" stroke="#000" stroke-width="1"/>
<line x1="381.2" y1="296.48" x2="381.2" y2="295.38" stroke="#000" stroke-width="1"/>
<line x1="379.9" y1="295.38" x2="382.5" y2="295.38" stroke="#000" stroke-width="1"/>
<line x1="376.1" y1="335.1" x2="376.1" y2="338.9" stroke="#000" stroke-width="1.2"/>
<rect x="393.7" y="274.66" width="7.6" height="60.44" fill="#000"/>
<rect x="403.6" y="265.72" width="7.8" height="69.38" fill="#8686f4"/>
<line x1="397.5" y1="275.16" x2="397.5" y2="273.47" stroke="#000" stroke-width="1"/>
<line x1="396.2" y1="273.47" x2="398.8" y2="273.47" stroke="#000" stroke-width="1"/>
<line x1="407.5" y1="266.22" x2="407.5" y2="263.94" stroke="#000" stroke-width="1"/>
<line x1="406.2" y1="263.94" x2="408.8" y2="263.94" stroke="#000" stroke-width="1"/>
<line x1="402.4" y1="335.1" x2="402.4" y2="338.9" stroke="#000" stroke-width="1.2"/>
<rect x="420" y="241.01" width="7.6" height="94.09" fill="#000"/>
<rect x="429.9" y="226.72" width="7.8" height="108.38" fill="#8686f4"/>
<line x1="423.8" y1="241.51" x2="423.8" y2="233.87" stroke="#000" stroke-width="1"/>
<line x1="422.5" y1="233.87" x2="425.1" y2="233.87" stroke="#000" stroke-width="1"/>
<line x1="433.8" y1="227.22" x2="433.8" y2="225.53" stroke="#000" stroke-width="1"/>
<line x1="432.5" y1="225.53" x2="435.1" y2="225.53" stroke="#000" stroke-width="1"/>
<line x1="428.7" y1="335.1" x2="428.7" y2="338.9" stroke="#000" stroke-width="1.2"/>
<rect x="276.1" y="212.2" width="14.3" height="7.2" fill="#000"/>
<text x="296.7" y="218.8" font-size="9.5" text-anchor="start" font-weight="bold" fill="#000">FeS<tspan dy="2.85" font-size="7.41">2</tspan></text>
<rect x="327.2" y="212.2" width="14" height="7.2" fill="#8686f4"/>
<text x="347.9" y="218.8" font-size="9.5" text-anchor="start" font-weight="bold" fill="#000">FeS<tspan dy="2.85" font-size="7.41">2</tspan><tspan dy="-2.85">@CP</tspan></text>
<text x="270.8" y="348.8" font-size="9.8" text-anchor="middle" font-weight="bold" fill="#000">0.00</text>
<text x="297.1" y="348.8" font-size="9.8" text-anchor="middle" font-weight="bold" fill="#000">1.25</text>
<text x="323.4" y="348.8" font-size="9.8" text-anchor="middle" font-weight="bold" fill="#000">2.50</text>
<text x="349.7" y="348.8" font-size="9.8" text-anchor="middle" font-weight="bold" fill="#000">5.00</text>
<text x="376" y="348.8" font-size="9.8" text-anchor="middle" font-weight="bold" fill="#000">10.00</text>
<text x="402.3" y="348.8" font-size="9.8" text-anchor="middle" font-weight="bold" fill="#000">20.00</text>
<text x="428.6" y="348.8" font-size="9.8" text-anchor="middle" font-weight="bold" fill="#000">40.00</text>
<text x="350.2" y="365.8" font-size="9.85" text-anchor="middle" font-weight="bold" fill="#000">Concentration (μg/mL)</text>
<text x="236.9" y="275.5" font-size="9.65" text-anchor="middle" font-weight="bold" fill="#000" transform="rotate(-90 236.9 275.5)">Relative activity (%)</text>
<line x1="266" y1="326.9" x2="276.4" y2="326.9" stroke="#000" stroke-width="1.3"/>
<text x="271.2" y="323.7" font-size="9.5" text-anchor="middle" font-weight="bold" fill="#000">ns</text>
<line x1="292.3" y1="312.4" x2="302.7" y2="312.4" stroke="#000" stroke-width="1.3"/>
<text x="297.5" y="309.2" font-size="9.5" text-anchor="middle" font-weight="bold" fill="#000">ns</text>
<line x1="318.6" y1="308.3" x2="329" y2="308.3" stroke="#000" stroke-width="1.3"/>
<text x="323.88" y="309.59" font-size="10.5" text-anchor="middle" font-weight="bold" fill="#202020" letter-spacing="0.15">**</text>
<line x1="344.9" y1="294.8" x2="355.3" y2="294.8" stroke="#000" stroke-width="1.3"/>
<text x="350.18" y="296.09" font-size="10.5" text-anchor="middle" font-weight="bold" fill="#202020" letter-spacing="0.15">**</text>
<line x1="371.2" y1="289.8" x2="381.6" y2="289.8" stroke="#000" stroke-width="1.3"/>
<text x="376.47" y="291.09" font-size="10.5" text-anchor="middle" font-weight="bold" fill="#202020" letter-spacing="0.15">**</text>
<line x1="397.5" y1="260.4" x2="407.9" y2="260.4" stroke="#000" stroke-width="1.3"/>
<text x="402.77" y="261.69" font-size="10.5" text-anchor="middle" font-weight="bold" fill="#202020" letter-spacing="0.15">**</text>
<line x1="423.8" y1="222.6" x2="434.2" y2="222.6" stroke="#000" stroke-width="1.3"/>
<text x="429.07" y="223.88" font-size="10.5" text-anchor="middle" font-weight="bold" fill="#202020" letter-spacing="0.15">*</text>
<text x="454" y="204" font-size="16" text-anchor="start" font-weight="bold" fill="#000">F</text>
<line x1="476" y1="216" x2="476" y2="335.7" stroke="#000" stroke-width="1.3"/>
<line x1="475.4" y1="335.1" x2="654" y2="335.1" stroke="#000" stroke-width="1.3"/>
<line x1="472.8" y1="335.1" x2="476" y2="335.1" stroke="#000" stroke-width="1.1"/>
<text x="471.4" y="338.5" font-size="9.8" text-anchor="end" font-weight="bold" fill="#000">0</text>
<line x1="474.2" y1="329.17" x2="476" y2="329.17" stroke="#000" stroke-width="1"/>
<line x1="474.2" y1="323.24" x2="476" y2="323.24" stroke="#000" stroke-width="1"/>
<line x1="474.2" y1="317.31" x2="476" y2="317.31" stroke="#000" stroke-width="1"/>
<line x1="474.2" y1="311.38" x2="476" y2="311.38" stroke="#000" stroke-width="1"/>
<line x1="472.8" y1="305.45" x2="476" y2="305.45" stroke="#000" stroke-width="1.1"/>
<text x="471.4" y="308.85" font-size="9.8" text-anchor="end" font-weight="bold" fill="#000">50</text>
<line x1="474.2" y1="299.52" x2="476" y2="299.52" stroke="#000" stroke-width="1"/>
<line x1="474.2" y1="293.59" x2="476" y2="293.59" stroke="#000" stroke-width="1"/>
<line x1="474.2" y1="287.66" x2="476" y2="287.66" stroke="#000" stroke-width="1"/>
<line x1="474.2" y1="281.73" x2="476" y2="281.73" stroke="#000" stroke-width="1"/>
<line x1="472.8" y1="275.8" x2="476" y2="275.8" stroke="#000" stroke-width="1.1"/>
<text x="471.4" y="279.2" font-size="9.8" text-anchor="end" font-weight="bold" fill="#000">100</text>
<line x1="474.2" y1="269.87" x2="476" y2="269.87" stroke="#000" stroke-width="1"/>
<line x1="474.2" y1="263.94" x2="476" y2="263.94" stroke="#000" stroke-width="1"/>
<line x1="474.2" y1="258.01" x2="476" y2="258.01" stroke="#000" stroke-width="1"/>
<line x1="474.2" y1="252.08" x2="476" y2="252.08" stroke="#000" stroke-width="1"/>
<line x1="472.8" y1="246.15" x2="476" y2="246.15" stroke="#000" stroke-width="1.1"/>
<text x="471.4" y="249.55" font-size="9.8" text-anchor="end" font-weight="bold" fill="#000">150</text>
<line x1="474.2" y1="240.22" x2="476" y2="240.22" stroke="#000" stroke-width="1"/>
<line x1="474.2" y1="234.29" x2="476" y2="234.29" stroke="#000" stroke-width="1"/>
<line x1="474.2" y1="228.36" x2="476" y2="228.36" stroke="#000" stroke-width="1"/>
<line x1="474.2" y1="222.43" x2="476" y2="222.43" stroke="#000" stroke-width="1"/>
<line x1="472.8" y1="216.5" x2="476" y2="216.5" stroke="#000" stroke-width="1.1"/>
<text x="471.4" y="219.9" font-size="9.8" text-anchor="end" font-weight="bold" fill="#000">200</text>
<rect x="477" y="283.57" width="6.2" height="51.53" fill="#000"/>
<rect x="484.5" y="266.31" width="6" height="68.79" fill="#8686f4"/>
<line x1="480.1" y1="284.07" x2="480.1" y2="282.38" stroke="#000" stroke-width="1"/>
<line x1="478.8" y1="282.38" x2="481.4" y2="282.38" stroke="#000" stroke-width="1"/>
<line x1="487.5" y1="266.81" x2="487.5" y2="265.13" stroke="#000" stroke-width="1"/>
<line x1="486.2" y1="265.13" x2="488.8" y2="265.13" stroke="#000" stroke-width="1"/>
<line x1="484" y1="335.1" x2="484" y2="338.9" stroke="#000" stroke-width="1.2"/>
<rect x="497.35" y="276.04" width="6.2" height="59.06" fill="#000"/>
<rect x="504.85" y="261.57" width="6" height="73.53" fill="#8686f4"/>
<line x1="500.45" y1="276.54" x2="500.45" y2="275.44" stroke="#000" stroke-width="1"/>
<line x1="499.15" y1="275.44" x2="501.75" y2="275.44" stroke="#000" stroke-width="1"/>
<line x1="507.85" y1="262.07" x2="507.85" y2="260.38" stroke="#000" stroke-width="1"/>
<line x1="506.55" y1="260.38" x2="509.15" y2="260.38" stroke="#000" stroke-width="1"/>
<line x1="504.35" y1="335.1" x2="504.35" y2="338.9" stroke="#000" stroke-width="1.2"/>
<rect x="517.7" y="275.56" width="6.2" height="59.54" fill="#000"/>
<rect x="525.2" y="255.99" width="6" height="79.11" fill="#8686f4"/>
<line x1="520.8" y1="276.06" x2="520.8" y2="274.97" stroke="#000" stroke-width="1"/>
<line x1="519.5" y1="274.97" x2="522.1" y2="274.97" stroke="#000" stroke-width="1"/>
<line x1="528.2" y1="256.49" x2="528.2" y2="254.21" stroke="#000" stroke-width="1"/>
<line x1="526.9" y1="254.21" x2="529.5" y2="254.21" stroke="#000" stroke-width="1"/>
<line x1="524.7" y1="335.1" x2="524.7" y2="338.9" stroke="#000" stroke-width="1.2"/>
<rect x="538.05" y="273.78" width="6.2" height="61.32" fill="#000"/>
<rect x="545.55" y="254.69" width="6" height="80.41" fill="#8686f4"/>
<line x1="541.15" y1="274.28" x2="541.15" y2="272.6" stroke="#000" stroke-width="1"/>
<line x1="539.85" y1="272.6" x2="542.45" y2="272.6" stroke="#000" stroke-width="1"/>
<line x1="548.55" y1="255.19" x2="548.55" y2="253.5" stroke="#000" stroke-width="1"/>
<line x1="547.25" y1="253.5" x2="549.85" y2="253.5" stroke="#000" stroke-width="1"/>
<line x1="545.05" y1="335.1" x2="545.05" y2="338.9" stroke="#000" stroke-width="1.2"/>
<rect x="558.4" y="269.57" width="6.2" height="65.53" fill="#000"/>
<rect x="565.9" y="250.89" width="6" height="84.21" fill="#8686f4"/>
<line x1="561.5" y1="270.07" x2="561.5" y2="268.39" stroke="#000" stroke-width="1"/>
<line x1="560.2" y1="268.39" x2="562.8" y2="268.39" stroke="#000" stroke-width="1"/>
<line x1="568.9" y1="251.39" x2="568.9" y2="249.71" stroke="#000" stroke-width="1"/>
<line x1="567.6" y1="249.71" x2="570.2" y2="249.71" stroke="#000" stroke-width="1"/>
<line x1="565.4" y1="335.1" x2="565.4" y2="338.9" stroke="#000" stroke-width="1.2"/>
<rect x="578.75" y="265.13" width="6.2" height="69.97" fill="#000"/>
<rect x="586.25" y="244.07" width="6" height="91.03" fill="#8686f4"/>
<line x1="581.85" y1="265.63" x2="581.85" y2="263.35" stroke="#000" stroke-width="1"/>
<line x1="580.55" y1="263.35" x2="583.15" y2="263.35" stroke="#000" stroke-width="1"/>
<line x1="589.25" y1="244.57" x2="589.25" y2="242.89" stroke="#000" stroke-width="1"/>
<line x1="587.95" y1="242.89" x2="590.55" y2="242.89" stroke="#000" stroke-width="1"/>
<line x1="585.75" y1="335.1" x2="585.75" y2="338.9" stroke="#000" stroke-width="1.2"/>
<rect x="599.1" y="261.57" width="6.2" height="73.53" fill="#000"/>
<rect x="606.6" y="242" width="6" height="93.1" fill="#8686f4"/>
<line x1="602.2" y1="262.07" x2="602.2" y2="260.38" stroke="#000" stroke-width="1"/>
<line x1="600.9" y1="260.38" x2="603.5" y2="260.38" stroke="#000" stroke-width="1"/>
<line x1="609.6" y1="242.5" x2="609.6" y2="240.22" stroke="#000" stroke-width="1"/>
<line x1="608.3" y1="240.22" x2="610.9" y2="240.22" stroke="#000" stroke-width="1"/>
<line x1="606.1" y1="335.1" x2="606.1" y2="338.9" stroke="#000" stroke-width="1.2"/>
<rect x="619.45" y="256.82" width="6.2" height="78.28" fill="#000"/>
<rect x="626.95" y="239.03" width="6" height="96.07" fill="#8686f4"/>
<line x1="622.55" y1="257.32" x2="622.55" y2="254.45" stroke="#000" stroke-width="1"/>
<line x1="621.25" y1="254.45" x2="623.85" y2="254.45" stroke="#000" stroke-width="1"/>
<line x1="629.95" y1="239.53" x2="629.95" y2="235.48" stroke="#000" stroke-width="1"/>
<line x1="628.65" y1="235.48" x2="631.25" y2="235.48" stroke="#000" stroke-width="1"/>
<line x1="626.45" y1="335.1" x2="626.45" y2="338.9" stroke="#000" stroke-width="1.2"/>
<rect x="639.8" y="237.85" width="6.2" height="97.25" fill="#000"/>
<rect x="647.3" y="225.99" width="6" height="109.11" fill="#8686f4"/>
<line x1="642.9" y1="238.35" x2="642.9" y2="236.66" stroke="#000" stroke-width="1"/>
<line x1="641.6" y1="236.66" x2="644.2" y2="236.66" stroke="#000" stroke-width="1"/>
<line x1="650.3" y1="226.49" x2="650.3" y2="223.02" stroke="#000" stroke-width="1"/>
<line x1="649" y1="223.02" x2="651.6" y2="223.02" stroke="#000" stroke-width="1"/>
<line x1="646.8" y1="335.1" x2="646.8" y2="338.9" stroke="#000" stroke-width="1.2"/>
<rect x="490.7" y="210.2" width="14.3" height="7.2" fill="#000"/>
<text x="511.4" y="216.8" font-size="9.5" text-anchor="start" font-weight="bold" fill="#000">FeS<tspan dy="2.85" font-size="7.41">2</tspan></text>
<rect x="544.2" y="210.2" width="14" height="7.2" fill="#8686f4"/>
<text x="564.8" y="216.8" font-size="9.5" text-anchor="start" font-weight="bold" fill="#000">FeS<tspan dy="2.85" font-size="7.41">2</tspan><tspan dy="-2.85">@CP</tspan></text>
<text x="484" y="349.2" font-size="9.8" text-anchor="middle" font-weight="bold" fill="#000">0</text>
<text x="504.35" y="349.2" font-size="9.8" text-anchor="middle" font-weight="bold" fill="#000">4</text>
<text x="524.7" y="349.2" font-size="9.8" text-anchor="middle" font-weight="bold" fill="#000">25</text>
<text x="545.05" y="349.2" font-size="9.8" text-anchor="middle" font-weight="bold" fill="#000">30</text>
<text x="565.4" y="349.2" font-size="9.8" text-anchor="middle" font-weight="bold" fill="#000">35</text>
<text x="585.75" y="349.2" font-size="9.8" text-anchor="middle" font-weight="bold" fill="#000">40</text>
<text x="606.1" y="349.2" font-size="9.8" text-anchor="middle" font-weight="bold" fill="#000">45</text>
<text x="626.45" y="349.2" font-size="9.8" text-anchor="middle" font-weight="bold" fill="#000">50</text>
<text x="646.8" y="349.2" font-size="9.8" text-anchor="middle" font-weight="bold" fill="#000">55</text>
<text x="553" y="362.6" font-size="10" text-anchor="start" font-weight="bold" fill="#000">T</text>
<text x="560" y="362.6" font-size="10" text-anchor="start" font-weight="normal" fill="#000" font-family='"Liberation Serif", serif'>(℃)</text>
<text x="453.4" y="275.8" font-size="9.65" text-anchor="middle" font-weight="bold" fill="#000" transform="rotate(-90 453.4 275.8)">Relative activity (%)</text>
<line x1="479.85" y1="262.8" x2="489.35" y2="262.8" stroke="#000" stroke-width="1.3"/>
<text x="484.68" y="263.69" font-size="10.5" text-anchor="middle" font-weight="bold" fill="#202020" letter-spacing="0.15">***</text>
<line x1="500.2" y1="256" x2="509.7" y2="256" stroke="#000" stroke-width="1.3"/>
<text x="505.03" y="256.88" font-size="10.5" text-anchor="middle" font-weight="bold" fill="#202020" letter-spacing="0.15">***</text>
<line x1="520.55" y1="249.6" x2="530.05" y2="249.6" stroke="#000" stroke-width="1.3"/>
<text x="525.38" y="250.49" font-size="10.5" text-anchor="middle" font-weight="bold" fill="#202020" letter-spacing="0.15">***</text>
<line x1="540.9" y1="248" x2="550.4" y2="248" stroke="#000" stroke-width="1.3"/>
<text x="545.73" y="248.88" font-size="10.5" text-anchor="middle" font-weight="bold" fill="#202020" letter-spacing="0.15">***</text>
<line x1="561.25" y1="243.8" x2="570.75" y2="243.8" stroke="#000" stroke-width="1.3"/>
<text x="566.08" y="244.69" font-size="10.5" text-anchor="middle" font-weight="bold" fill="#202020" letter-spacing="0.15">***</text>
<line x1="581.6" y1="239" x2="591.1" y2="239" stroke="#000" stroke-width="1.3"/>
<text x="586.43" y="239.88" font-size="10.5" text-anchor="middle" font-weight="bold" fill="#202020" letter-spacing="0.15">***</text>
<line x1="601.95" y1="235.4" x2="611.45" y2="235.4" stroke="#000" stroke-width="1.3"/>
<text x="606.78" y="236.29" font-size="10.5" text-anchor="middle" font-weight="bold" fill="#202020" letter-spacing="0.15">***</text>
<line x1="622.3" y1="232.2" x2="631.8" y2="232.2" stroke="#000" stroke-width="1.3"/>
<text x="627.13" y="233.08" font-size="10.5" text-anchor="middle" font-weight="bold" fill="#202020" letter-spacing="0.15">***</text>
<line x1="642.65" y1="218.3" x2="652.15" y2="218.3" stroke="#000" stroke-width="1.3"/>
<text x="647.48" y="219.19" font-size="10.5" text-anchor="middle" font-weight="bold" fill="#202020" letter-spacing="0.15">***</text>
</svg></body></html>
